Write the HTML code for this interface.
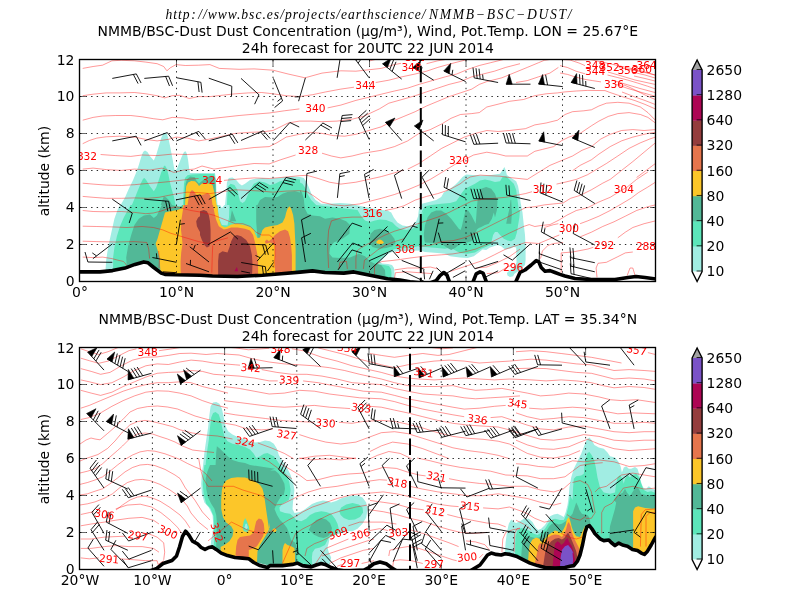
<!DOCTYPE html><html><head><meta charset="utf-8"><title>NMMB/BSC-Dust</title>
<style>html,body{margin:0;padding:0;background:#fff}svg{display:block}text{font-family:"DejaVu Sans","Liberation Sans",sans-serif}</style></head><body>
<svg width="800" height="600" viewBox="0 0 800 600">
<rect width="800" height="600" fill="#fff"/>
<text y="19" font-size="13.6" font-style="italic" style="font-family:'Liberation Serif','DejaVu Serif',serif"><tspan x="165.5" textLength="260" lengthAdjust="spacing">http<tspan dx="0.5">:</tspan><tspan dx="1.5">//www.bsc.es/projects/earthscience/</tspan></tspan><tspan x="429" textLength="142.5" lengthAdjust="spacing">NMMB−BSC−DUST/</tspan></text>
<clipPath id="clip1"><rect x="80" y="60" width="575.6" height="221.2"/></clipPath>
<g clip-path="url(#clip1)">
<polygon fill="#a1ede3" points="105.6,275.0 105.6,268.8 106.2,260.0 107.5,251.2 109.4,241.2 111.9,230.0 114.4,218.8 117.5,210.0 120.0,205.0 120.6,205.0 125.0,197.5 128.8,188.8 133.1,180.0 136.2,172.5 138.8,165.0 141.2,156.9 143.1,151.9 145.0,150.6 147.5,151.9 150.0,156.2 153.8,160.6 156.2,155.0 158.8,146.2 161.2,138.1 163.1,133.8 165.0,132.5 166.9,133.8 168.8,140.0 170.6,148.8 172.5,158.8 174.0,167.5 175.0,171.2 176.9,168.8 179.4,162.5 181.9,156.2 184.0,151.9 185.6,151.2 186.9,153.8 188.1,160.0 189.0,167.5 190.0,173.1 200.0,173.1 200.0,173.1 215.0,173.1 216.0,180.0 216.5,192.5 217.5,205.0 220.0,205.0 221.9,208.1 224.4,205.0 225.0,205.0 226.2,192.5 226.9,182.5 228.8,178.1 232.5,177.5 236.2,180.0 239.4,183.8 241.9,185.6 245.0,183.8 250.0,180.0 255.0,178.8 262.5,178.1 270.0,178.8 277.5,178.1 285.0,176.9 292.5,176.5 300.0,176.9 300.0,176.9 303.8,178.1 306.9,182.5 309.4,188.8 311.9,195.0 315.6,200.0 321.2,203.8 330.0,203.8 340.0,203.1 350.0,203.8 370.0,208.1 380.0,210.0 387.5,210.6 391.2,212.5 393.8,217.5 397.5,222.5 402.5,225.6 407.5,226.2 412.5,225.0 416.2,221.2 418.1,216.2 418.8,210.0 418.8,210.0 421.9,203.8 428.8,201.9 436.2,200.0 441.2,196.9 443.8,192.5 450.0,188.8 455.0,185.0 458.8,181.2 462.5,176.9 466.2,174.4 472.5,175.0 480.0,175.6 487.5,175.6 495.0,174.4 500.0,173.8 502.5,170.0 504.4,166.9 505.6,170.0 506.9,175.0 511.2,178.1 516.2,181.2 518.1,186.2 519.4,193.8 520.6,202.5 522.5,212.5 523.8,225.0 525.0,235.0 525.6,247.5 525.6,260.0 525.0,265.0 520.0,270.0 514.4,273.8 513.1,276.2 510.0,277.1 507.5,275.6 506.9,273.1 510.0,270.0 515.0,266.2 516.5,262.5 516.2,247.5 513.8,246.9 510.0,248.8 505.0,249.4 501.2,246.2 497.5,245.0 493.8,246.2 490.0,247.5 486.2,250.0 482.5,249.4 478.8,252.5 473.8,256.2 467.5,258.1 460.0,257.5 450.0,256.2 445.0,253.8 437.5,253.1 431.2,252.5 425.0,251.9 420.0,250.6 396.2,251.2 391.2,252.2 388.0,254.0 384.0,258.0 380.0,262.0 382.0,263.5 388.0,264.0 392.0,265.0 394.0,268.0 394.5,273.0 394.0,285.0"/>
<polygon fill="#5ce6ba" points="113.1,275.0 113.1,266.9 113.1,257.5 114.4,247.5 116.9,236.2 120.0,226.2 123.8,217.5 128.1,209.4 130.6,205.0 131.9,205.0 135.0,197.5 137.5,191.2 140.6,183.8 143.1,178.8 144.4,178.1 146.2,180.0 150.0,186.2 153.8,191.2 156.2,187.5 158.8,180.0 161.2,172.5 163.8,166.2 165.0,165.6 166.9,168.8 168.5,175.0 170.0,182.5 171.9,190.0 173.8,196.2 175.6,205.0 177.5,206.0 181.2,206.0 183.1,205.0 183.5,192.5 184.0,183.8 185.0,178.1 187.5,175.2 191.2,174.4 200.0,174.1 200.0,174.0 214.4,174.0 215.2,182.5 215.8,192.5 216.2,205.0 217.5,205.0 218.8,217.5 221.9,225.0 227.5,225.6 229.0,217.5 229.4,205.0 226.9,205.0 227.5,192.5 228.1,186.2 230.6,183.8 234.4,185.0 237.5,190.0 238.8,196.2 240.0,201.2 242.5,203.1 245.0,201.2 250.0,190.0 253.8,183.8 258.8,181.2 265.0,182.5 270.0,185.0 275.0,183.8 280.0,181.2 287.5,179.4 295.0,178.8 300.0,179.4 300.0,182.5 302.5,183.8 305.0,187.5 307.5,193.8 311.2,200.0 316.2,205.0 357.5,210.0 361.2,216.2 365.0,220.6 370.0,221.9 375.0,220.6 380.0,219.4 386.2,220.0 392.5,222.5 396.2,226.2 400.0,228.8 406.2,230.0 412.5,228.8 417.5,225.0 420.0,220.0 421.9,215.0 423.8,210.0 420.6,216.2 422.5,210.0 425.0,206.2 431.2,205.0 441.2,203.8 450.0,203.1 456.2,201.2 458.8,197.5 461.2,193.8 465.0,188.8 470.0,186.2 475.0,183.8 480.0,180.6 485.0,179.4 490.0,180.6 495.0,181.9 500.0,181.2 502.5,176.9 506.2,176.2 509.4,179.4 513.8,183.8 516.2,190.0 517.5,200.0 518.8,210.0 520.0,210.0 519.4,217.5 518.1,225.0 516.9,232.5 515.0,238.8 511.2,241.2 507.5,240.6 503.8,238.8 500.0,235.0 497.5,231.9 495.0,231.9 493.1,235.0 491.9,240.0 490.6,245.0 487.5,246.2 481.2,248.8 475.0,252.5 467.5,253.8 460.0,253.1 450.0,247.5 445.0,248.8 437.5,248.1 431.2,247.5 425.0,246.9 420.0,246.2 417.5,246.2 412.5,247.5 396.2,248.8 391.2,250.2 387.0,252.5 383.0,256.0 379.0,260.0 377.0,263.0 379.0,264.5 384.0,265.0 389.0,266.0 391.0,269.0 391.5,273.0 391.0,285.0"/>
<polygon fill="#52b897" points="126.9,275.0 126.9,267.5 126.2,257.5 128.1,246.2 131.2,235.0 134.4,225.0 138.8,218.8 143.8,215.6 150.0,214.4 153.8,218.1 156.9,215.6 160.0,208.8 161.9,205.0 160.6,205.0 162.5,200.0 163.8,196.2 166.2,197.5 170.0,201.2 171.9,205.0 180.0,207.5 182.5,205.0 184.4,205.0 184.8,192.5 185.6,183.8 186.9,179.4 190.0,176.5 195.0,177.2 196.0,180.0 199.0,183.5 202.0,181.0 205.0,178.5 210.0,176.0 214.0,176.0 215.5,179.0 216.0,205.0 216.2,230.0 257.5,238.8 256.2,221.9 256.2,205.0 257.5,205.0 260.0,200.0 265.0,196.9 272.5,197.5 277.5,196.9 282.5,193.8 287.5,191.9 295.0,191.2 300.0,192.5 300.0,190.0 301.9,192.5 303.8,198.8 304.4,205.0 305.0,208.8 307.5,213.8 312.5,215.6 320.0,216.2 325.0,218.8 332.5,217.5 340.0,218.8 346.2,221.2 350.0,225.0 349.4,233.8 342.5,238.8 333.8,242.5 330.0,247.5 329.4,253.8 332.5,257.5 340.0,258.1 350.0,257.5 358.8,253.8 365.0,256.2 370.0,261.2 375.0,263.8 381.2,265.0 385.0,270.0 385.6,280.0 300.0,280.0"/>
<polygon fill="#52b897" points="369.4,239.4 370.6,233.8 374.4,230.0 380.0,228.8 386.2,230.6 391.2,234.4 394.4,238.8 395.6,243.1 392.5,246.2 386.2,248.1 378.8,248.8 372.5,246.9 370.0,243.8"/>
<polygon fill="#52b897" points="424.4,240.6 423.8,233.8 425.0,225.0 427.5,217.5 431.2,212.5 436.2,210.6 441.2,210.6 446.2,213.8 451.2,218.8 455.0,223.8 458.8,228.8 460.6,230.0 461.9,226.2 463.8,217.5 465.6,210.0 468.1,210.6 471.2,215.0 474.4,221.2 475.6,223.8 476.2,217.5 476.9,207.5 476.9,207.5 478.1,195.0 481.2,188.8 486.2,186.9 491.2,188.8 495.0,193.8 497.5,201.2 496.9,210.0 495.0,217.5 493.8,212.5 491.9,218.8 488.8,223.8 485.0,225.0 481.2,226.9 478.8,228.1 476.9,229.4 475.6,233.8 473.8,238.8 471.2,241.2 467.5,242.5 462.5,243.1 458.8,245.0 455.0,248.1 451.2,250.0 447.5,248.1 441.2,243.8 432.5,243.1 425.0,242.5"/>
<polygon fill="#52b897" points="510.6,200.0 509.4,208.8 506.9,220.0 506.2,223.8 511.2,223.8 511.9,212.5 511.2,200.0"/>
<polygon fill="#52b897" points="230.0,221.2 231.9,210.0 236.2,221.2"/>
<polygon fill="#fcc629" points="160.6,275.0 160.0,265.0 159.4,257.5 157.5,250.0 155.6,243.8 157.5,238.8 160.0,230.0 162.5,221.2 165.0,212.5 170.0,211.2 177.5,210.0 182.5,208.1 183.1,205.0 185.0,205.0 185.6,192.5 186.2,186.2 188.1,182.5 191.2,181.0 195.0,181.2 197.5,183.8 199.0,186.0 202.0,183.5 206.0,183.5 210.0,183.5 212.5,185.0 214.0,191.0 215.5,199.0 217.0,207.0 217.5,205.0 218.1,212.5 219.4,220.0 221.2,225.6 225.0,227.5 228.1,226.2 231.2,224.4 237.5,223.8 243.8,225.0 250.0,226.9 253.8,230.0 255.6,235.0 257.5,238.1 260.0,237.5 261.2,233.8 262.5,230.0 265.0,227.5 270.0,226.2 277.5,225.0 282.5,222.5 285.0,217.5 286.2,212.5 287.5,208.8 289.4,206.2 291.2,208.8 293.1,215.0 294.4,223.8 295.0,236.2 295.6,248.8 295.6,280.0"/>
<polygon fill="#fcc629" points="376.2,241.9 378.1,240.0 380.0,239.4 382.2,240.6 384.0,242.5 382.5,243.8 379.4,244.0 376.9,243.5"/>
<polygon fill="#e6754c" points="181.2,280.0 180.6,270.0 180.6,261.2 181.2,252.5 182.5,243.8 181.9,237.5 181.0,230.0 181.2,221.2 182.5,212.5 183.8,205.0 187.5,205.0 188.8,197.5 190.0,192.5 191.9,190.0 193.8,191.2 196.2,194.4 200.0,195.2 200.0,195.0 203.8,194.4 207.5,193.1 210.0,195.0 211.9,200.0 212.5,205.0 213.1,205.0 214.4,212.5 216.2,220.0 218.8,226.2 223.8,229.4 227.5,228.8 231.2,227.5 237.5,227.5 245.0,228.8 250.0,230.6 253.1,235.0 255.0,242.5 256.2,248.8 257.5,255.0 258.1,262.5 258.1,280.0"/>
<polygon fill="#e6754c" points="275.0,280.0 275.0,245.0 270.0,242.5 265.6,243.8 265.0,241.2 266.9,239.4 268.8,241.2 271.9,238.8 275.0,235.0 280.0,231.2 285.0,229.4 288.1,231.2 290.0,237.5 291.2,246.2 291.9,255.0 291.9,280.0"/>
<polygon fill="#943d3d" points="200.0,211.2 203.8,210.0 206.9,211.2 208.8,215.0 210.0,221.2 210.6,230.0 210.6,240.0 209.4,246.2 206.9,247.5 204.4,245.0 201.9,240.0 200.0,235.0 200.0,231.9 198.8,230.0 196.9,226.2 196.2,221.2 198.1,217.5 200.0,216.2"/>
<polygon fill="#943d3d" points="218.1,280.0 218.1,261.2 218.8,253.8 222.5,251.2 227.5,252.5 229.4,247.5 231.2,241.2 233.8,236.2 236.9,235.0 241.2,236.2 246.2,240.0 250.0,246.2 251.9,255.0 252.5,263.8 251.9,280.0"/>
<polygon fill="#ad0554" points="234.4,271.2 236.9,266.9 238.1,271.2"/>
<g fill="none" stroke="#ff0000" stroke-opacity="0.58" stroke-width="0.7">
<polyline points="422.8,59.9 426.5,58.9"/>
<polyline points="370.0,60.8 377.5,58.9"/>
<polyline points="426.5,63.7 437.8,60.8 449.1,58.9"/>
<polyline points="375.7,82.5 388.8,80.2 402.0,76.8 415.2,74.0 426.5,71.2 437.8,67.4 451.0,63.7 464.2,60.3 471.8,58.0"/>
<polyline points="516.0,82.5 527.3,80.6 538.6,76.8 549.9,73.1 558.4,67.4"/>
<polyline points="572.5,170.7 580.1,165.4 591.4,159.8 598.9,154.1 610.2,146.6 621.5,140.9 632.8,137.1 647.9,133.4 655.4,132.4"/>
<polyline points="82.7,183.2 93.1,184.1 106.3,185.1 121.3,185.5 134.5,184.7 145.8,183.6 157.1,182.8 168.4,181.7 179.8,180.4 191.1,179.0 198.6,178.5"/>
<polyline points="82.7,226.2 96.8,226.5 111.9,226.9 127.0,227.5 142.1,226.5 153.4,227.5 162.8,229.9 170.3,233.1 179.8,236.0 189.2,238.8 198.6,241.6 208.0,243.5 217.4,240.7 228.0,237.8"/>
<polyline points="82.7,241.2 96.8,241.6 115.7,242.0 134.5,241.6 146.8,242.5 148.7,249.1 149.6,258.6"/>
<polyline points="82.7,257.1 93.1,257.6 102.5,257.1 111.9,258.6 117.6,260.1 123.2,261.4 126.0,264.2 126.6,267.0"/>
<polyline points="158.6,251.0 159.4,260.4 159.0,268.0"/>
<polyline points="212.7,245.4 212.2,258.6 211.8,272.7"/>
<polyline points="162.8,272.7 176.0,272.7"/>
<polyline points="328.6,268.0 327.6,245.4 328.6,230.3 331.4,220.9 340.8,218.0 352.1,217.1 363.4,217.1"/>
<polyline points="338.9,268.9 339.9,262.3 346.5,261.4 347.4,268.9"/>
<polyline points="394.5,269.9 407.7,268.0 419.0,268.0 430.3,267.0 437.8,268.9"/>
<polyline points="475.5,268.0 486.8,267.0 498.1,262.3 509.4,256.7 520.0,249.1"/>
<polyline points="486.8,273.6 498.1,272.7 505.7,268.0 513.2,264.2"/>
<polyline points="394.5,278.3 395.4,272.7 407.7,271.8 419.0,272.7 432.2,273.6"/>
<polyline points="580.1,223.7 587.6,220.9 598.9,216.2 610.2,210.5 621.5,203.9 630.9,198.3 638.5,192.6 647.9,187.0 655.4,182.2"/>
<polyline points="544.3,227.5 553.7,224.6 558.4,223.7"/>
<polyline points="580.1,236.9 591.4,232.2 602.7,226.5 614.0,221.8 625.3,216.2 636.6,210.5 647.9,206.7 655.4,204.9"/>
<polyline points="617.8,237.8 625.3,232.2 632.8,227.5 644.1,223.7 655.4,220.9"/>
<polyline points="597.0,277.4 596.1,268.0 598.0,263.3 606.4,262.3 617.8,256.7 625.3,252.9 632.8,252.0"/>
<polyline points="561.2,272.7 561.2,252.9 572.5,252.0 587.6,249.1 593.3,247.3"/>
<polyline points="540.5,258.6 542.4,251.0 548.0,245.4 553.7,243.5 563.1,242.5"/>
<polyline points="627.2,275.5 630.0,268.0 632.8,268.0 635.1,275.5"/>
<polyline points="560.0,65.6 567.5,67.5 576.0,71.2 585.0,73.8"/>
<polyline points="607.5,75.0 617.5,77.5 627.5,80.0 637.5,83.0 647.5,86.2 655.0,88.8"/>
<polyline points="560.0,73.0 567.5,74.4 575.0,76.9 585.0,79.4 592.5,80.6 601.0,81.9"/>
<polyline points="624.0,85.0 630.0,87.5 640.0,92.5 647.5,96.2 655.0,99.4"/>
<polyline points="619.0,67.5 632.0,70.0 645.0,72.5 655.0,75.0"/>
<polyline points="632.0,72.0 645.0,75.0 655.0,78.0"/>
<polyline points="634.0,76.0 645.0,78.5 655.0,81.0"/>
<polyline points="608.0,72.0 620.0,75.5 635.0,80.0 655.0,84.4"/>
<polyline points="612.0,80.0 625.0,84.0 640.0,88.5 655.0,92.5"/>
<polyline points="615.0,84.0 628.0,88.5 640.0,92.0 655.0,96.2"/>
<polyline points="622.0,92.0 635.0,97.0 645.0,100.5 655.0,104.4"/>
<polyline points="82.7,120.2 93.1,117.4 102.5,116.0 115.7,115.5 130.8,115.5 142.1,116.8 153.4,118.7 162.8,119.8 172.2,117.4 183.5,117.9 194.8,119.8 209.9,118.7 239.1,115.5 254.1,114.2 269.2,113.0 284.3,110.8 299.4,108.9"/>
<polyline points="82.7,169.1 93.1,168.1 106.3,169.6 121.3,170.4 134.5,169.1 150.0,170.0 162.0,168.1 173.9,172.4 183.9,170.0 194.1,169.1 202.0,166.0 214.0,169.1 239.1,165.4 254.1,163.5 269.2,163.9 280.5,159.8 295.6,155.0"/>
<polyline points="82.7,95.7 93.1,94.2 106.3,92.9 119.5,92.9 134.5,92.5 145.8,93.8 157.1,95.7 164.7,97.9 172.2,95.7 179.8,95.3 189.2,98.5 198.6,96.6 209.9,96.6 235.3,93.8 248.5,92.9 261.7,92.5 273.0,93.8 286.2,95.7 299.4,96.6 312.6,94.7 325.8,91.9 340.8,89.1 354.0,87.2"/>
<polyline points="556.5,184.1 565.0,182.2 576.3,179.4 587.6,174.7 606.4,163.5 617.8,156.0 629.1,148.4 640.4,142.8 649.8,139.0 655.4,137.1"/>
<polyline points="636.6,177.5 655.4,163.5"/>
<polyline points="374.5,276.0 374.5,267.0 376.0,264.0 382.0,261.5 392.0,260.5 400.0,259.5 410.0,258.0 428.4,255.7 441.6,254.8 452.9,253.9 464.2,252.0 475.5,249.1 486.8,244.4 498.1,238.8 509.4,233.1 523.5,226.5 529.2,224.6 534.8,226.5 540.5,225.6 549.9,224.6 559.3,219.9 566.9,215.2 576.3,210.5 587.6,207.7 598.9,202.0 610.2,197.3 617.8,192.6 627.2,187.0 636.6,179.4 647.9,171.9"/>
<polyline points="224.0,180.4 239.1,179.0 254.1,177.9 269.2,178.5 284.3,177.2 299.4,175.7 306.9,175.3 318.2,178.5 329.5,182.2 340.8,184.1 355.9,182.2 381.3,176.6 394.5,172.8 403.9,170.0"/>
<polyline points="327.6,107.9 340.8,105.1 355.9,100.4 381.3,94.2 394.5,91.0 407.7,88.1 419.0,84.4 432.2,80.6 445.4,76.8 456.7,74.0 468.0,69.3 479.3,65.5 490.6,62.7 501.9,59.9 509.4,58.0"/>
<polyline points="82.7,68.4 93.1,66.5 102.5,65.2 111.9,60.8 121.3,60.3 134.5,60.8 145.8,62.1 157.1,63.7 163.7,66.5 166.9,70.8 170.3,67.8 176.0,64.6 185.4,65.5 198.6,65.2 209.9,64.6 219.3,68.4 239.1,69.3 254.1,68.9 273.0,70.2 288.1,74.0 305.0,77.8 322.0,73.1 340.8,70.8 355.9,71.2 381.3,68.4 394.5,64.6 401.1,63.3"/>
<polyline points="82.7,210.5 93.1,211.5 106.3,211.8 121.3,211.5 134.5,212.4 145.8,213.7 153.4,213.0 160.9,211.1 168.4,208.6 176.0,206.7 183.5,208.6 191.1,210.5 202.4,212.4 213.7,215.2 235.3,223.7 242.8,223.7 250.4,226.5 256.0,232.2 261.7,235.0 269.2,235.0 273.0,237.8 274.9,245.4 274.9,256.7 273.9,268.0"/>
<polyline points="575.0,60.0 590.0,59.5 620.0,66.0 640.0,70.5 655.0,75.0"/>
<polyline points="407.7,169.2 419.0,163.5 430.3,156.0 441.6,148.4 452.9,142.8 464.2,137.1 475.5,133.4 486.8,130.5 498.1,131.5 509.4,130.5 525.4,128.7 534.8,124.9 546.1,123.0 557.5,120.2 565.0,114.5 572.5,111.7 583.8,110.8 591.4,109.8 598.9,106.0 606.4,103.2 617.8,102.3 629.1,103.2 640.4,107.0 647.9,112.6 655.4,120.2"/>
<polyline points="385.1,210.5 394.5,208.6 403.9,205.8 415.2,200.1 426.5,196.4 437.8,193.6 449.1,189.8 460.1,183.9 465.0,180.0 470.1,177.0 480.0,175.1 490.0,175.7 500.0,176.2 509.4,177.5 527.3,179.4 549.9,165.4 561.2,160.7 572.5,156.0 582.0,150.3 591.4,146.6 600.8,139.0 610.2,134.3 621.5,130.5 632.8,129.6 644.1,130.5 655.4,129.6"/>
<polyline points="322.0,153.2 331.4,156.0 340.8,157.9 352.1,156.0 363.4,153.2 381.3,150.3 394.5,146.6 407.7,140.9 419.0,133.4 430.3,129.6 441.6,124.0 451.0,118.3 460.4,114.5 471.8,113.6 479.3,112.6 486.8,107.0 498.1,104.2 509.4,101.3 523.5,99.5 534.8,95.7 546.1,93.8 557.5,92.9 565.0,91.9 576.3,91.0 587.6,90.4 605.0,90.6 610.0,92.5 617.5,95.0 625.0,97.5 635.0,100.6 645.0,104.4 655.0,108.8"/>
<polyline points="82.7,143.7 89.3,140.5 96.8,138.1 106.3,136.8 119.5,136.2 134.5,137.1 145.8,139.4 157.1,140.9 168.4,139.4 176.0,137.1 187.3,138.1 198.6,140.9 209.9,139.0 235.3,133.4 248.5,132.4 261.7,131.9 273.0,130.5 280.5,126.8 288.1,123.0 299.4,121.1 310.7,121.1 322.0,121.7 337.1,121.1 352.1,119.2 363.4,116.4 379.4,108.9 388.8,103.2 402.0,99.5 415.2,95.7 426.5,91.9 437.8,88.1 449.1,84.4 460.4,81.6 471.8,76.8 483.1,74.0 494.4,71.2 505.7,67.4 520.0,63.7"/>
<polyline points="355.9,268.9 355.9,258.6 356.8,251.0 361.6,247.3 377.5,238.8 385.1,235.0 394.5,231.2 403.9,228.4 415.2,224.6 426.5,220.9 437.8,217.1 449.1,212.4 460.4,206.7 471.8,201.1 483.1,199.2 494.4,198.3 505.7,197.3 525.4,193.6 532.0,191.7"/>
<polyline points="449.1,271.8 460.4,268.0 471.8,264.2 483.1,260.4 494.4,254.8 505.7,249.1 525.4,242.5 538.6,243.5 549.9,238.8 559.3,235.0"/>
<polyline points="363.4,268.9 364.4,260.4 377.5,250.1 385.1,245.4 394.5,241.6 403.9,238.8"/>
<polyline points="82.7,196.4 93.1,197.3 106.3,198.3 121.3,198.3 134.5,197.9 147.7,198.3 159.0,197.3 168.4,195.4 177.9,193.6 187.3,192.2 198.6,192.6 209.9,193.6 235.3,189.8 248.5,190.4 261.7,191.1 273.0,192.2 286.2,191.1 299.4,190.7 306.9,191.7 314.4,196.4 322.0,202.0 333.3,204.9 344.6,205.8 359.7,203.9 381.3,198.3 394.5,194.5 407.7,189.8 419.0,185.1 430.3,179.4 454.8,164.5 464.2,159.8 473.6,155.0 486.8,152.2 498.1,154.1 505.7,156.0 527.3,156.0 534.8,151.3 542.4,149.4 553.7,146.6 561.2,140.9 568.8,137.1 580.1,133.4 591.4,125.8 598.9,121.1 608.3,116.4 617.8,113.6 629.1,112.6 640.4,114.5 647.9,117.4 655.4,123.0"/>
<polyline points="419.0,246.3 430.3,245.4 441.6,241.6 452.9,240.7 464.2,237.8 475.5,233.1 486.8,227.5 498.1,221.8 509.4,216.2 525.4,207.7 534.8,206.7 544.3,204.9 553.7,203.9 563.1,203.0 570.6,198.3 580.1,195.4 591.4,189.8 602.7,183.2 610.2,179.4 632.8,161.6 644.1,152.2 655.4,142.8"/>
<polyline points="100.6,154.5 115.7,155.6 130.8,156.4 142.1,155.0 157.1,155.6 172.2,154.1 187.3,154.5 202.4,153.7 217.4,151.3 239.1,149.4 254.1,147.5 269.2,146.6 276.8,142.8 286.2,137.1 299.4,134.3 310.7,132.4 322.0,133.4 333.3,135.6 344.6,136.2 355.9,134.3 381.3,126.8 392.6,121.1 403.9,116.4 415.2,111.7 426.5,106.0 437.8,101.3 449.1,96.6 460.4,92.9 471.8,89.1 479.3,84.4 486.8,81.6 501.9,77.8 527.3,67.4 538.6,62.7 544.3,60.3 553.7,58.9 570.0,60.0 579.0,63.0 585.0,65.6"/>
</g>
<g stroke="#000" stroke-width="0.85" stroke-dasharray="1.39,4.17" fill="none">
<line x1="176.5" y1="60" x2="176.5" y2="281.2"/>
<line x1="273" y1="60" x2="273" y2="281.2"/>
<line x1="369.5" y1="60" x2="369.5" y2="281.2"/>
<line x1="466" y1="60" x2="466" y2="281.2"/>
<line x1="562.5" y1="60" x2="562.5" y2="281.2"/>
<line x1="80" y1="244.5" x2="655.6" y2="244.5"/>
<line x1="80" y1="207.5" x2="655.6" y2="207.5"/>
<line x1="80" y1="170.5" x2="655.6" y2="170.5"/>
<line x1="80" y1="133.5" x2="655.6" y2="133.5"/>
<line x1="80" y1="96.5" x2="655.6" y2="96.5"/>
</g>
<g stroke="#000" stroke-width="0.6">
<line x1="176.5" y1="281.2" x2="176.5" y2="275.7"/>
<line x1="176.5" y1="60" x2="176.5" y2="65.5"/>
<line x1="273" y1="281.2" x2="273" y2="275.7"/>
<line x1="273" y1="60" x2="273" y2="65.5"/>
<line x1="369.5" y1="281.2" x2="369.5" y2="275.7"/>
<line x1="369.5" y1="60" x2="369.5" y2="65.5"/>
<line x1="466" y1="281.2" x2="466" y2="275.7"/>
<line x1="466" y1="60" x2="466" y2="65.5"/>
<line x1="562.5" y1="281.2" x2="562.5" y2="275.7"/>
<line x1="562.5" y1="60" x2="562.5" y2="65.5"/>
<line x1="80" y1="244.5" x2="85.5" y2="244.5"/>
<line x1="655.6" y1="244.5" x2="650.1" y2="244.5"/>
<line x1="80" y1="207.5" x2="85.5" y2="207.5"/>
<line x1="655.6" y1="207.5" x2="650.1" y2="207.5"/>
<line x1="80" y1="170.5" x2="85.5" y2="170.5"/>
<line x1="655.6" y1="170.5" x2="650.1" y2="170.5"/>
<line x1="80" y1="133.5" x2="85.5" y2="133.5"/>
<line x1="655.6" y1="133.5" x2="650.1" y2="133.5"/>
<line x1="80" y1="96.5" x2="85.5" y2="96.5"/>
<line x1="655.6" y1="96.5" x2="650.1" y2="96.5"/>
</g>
<g stroke="#000" stroke-width="0.9" fill="none" stroke-linejoin="miter">
<polyline points="112.3,78.4 136.3,73.9"/>
<polyline points="136.3,73.9 141.1,83.0"/>
<polyline points="133.3,74.4 138.1,83.6"/>
<polyline points="144.3,78.4 168.6,76.2"/>
<polyline points="168.6,76.2 172.6,85.8"/>
<polyline points="165.6,76.4 169.5,86.0"/>
<polyline points="176.9,77.8 200.9,82.3"/>
<polyline points="200.9,82.3 202.1,92.6"/>
<polyline points="197.9,81.7 199.1,92.0"/>
<polyline points="112.3,140.9 136.2,136.2"/>
<polyline points="136.2,136.2 141.1,145.4"/>
<polyline points="144.3,140.9 167.3,132.6"/>
<polyline points="167.3,132.6 173.5,140.8"/>
<polyline points="176.4,140.9 198.8,131.4"/>
<polyline points="198.8,131.4 205.5,139.3"/>
<polyline points="196.0,132.6 199.4,136.5"/>
<polyline points="208.8,78.2 231.8,86.2"/>
<polyline points="231.8,86.2 231.5,96.5"/>
<polyline points="208.8,140.8 232.3,134.2"/>
<polyline points="232.3,134.2 237.8,142.9"/>
<polyline points="229.3,135.0 234.9,143.8"/>
<polyline points="241.0,78.4 259.0,94.8"/>
<polyline points="259.0,94.8 254.6,104.2"/>
<polyline points="273.4,78.4 282.6,100.9"/>
<polyline points="282.6,100.9 274.6,107.5"/>
<polyline points="281.5,98.1 277.5,101.4"/>
<polyline points="305.4,77.8 298.6,101.2"/>
<polyline points="299.9,96.8 294.7,96.9"/>
<polyline points="337.1,77.8 340.9,53.7"/>
<polyline points="340.9,53.7 351.2,52.2"/>
<polyline points="369.1,77.8 354.5,58.3"/>
<polyline points="354.5,58.3 360.5,49.9"/>
<polyline points="356.3,60.7 362.4,52.3"/>
<polyline points="358.1,63.1 364.2,54.8"/>
<polyline points="241.0,140.5 263.3,130.7"/>
<polyline points="263.3,130.7 270.1,138.5"/>
<polyline points="260.5,131.9 267.3,139.7"/>
<polyline points="273.4,140.5 289.9,122.5"/>
<polyline points="289.9,122.5 299.2,127.0"/>
<polyline points="305.4,140.0 322.9,123.0"/>
<polyline points="322.9,123.0 332.0,128.0"/>
<polyline points="320.7,125.1 329.8,130.1"/>
<polyline points="337.1,139.4 342.2,115.5"/>
<polyline points="342.2,115.5 352.5,114.6"/>
<polyline points="341.5,118.5 351.8,117.6"/>
<polyline points="340.9,121.5 351.2,120.6"/>
<polyline points="369.1,139.4 358.7,117.3"/>
<polyline points="358.7,117.3 366.4,110.3"/>
<polyline points="360.0,120.1 367.7,113.1"/>
<polyline points="361.3,122.8 369.0,115.9"/>
<polyline points="362.6,125.6 370.3,118.6"/>
<polyline points="401.7,79.1 382.6,63.8"/>
<polyline points="389.8,69.5 393.6,59.9"/>
<polyline points="392.1,71.5 396.0,61.8"/>
<polyline points="433.7,80.2 413.0,67.3"/>
<polyline points="420.7,72.2 422.1,67.2"/>
<polyline points="465.7,81.6 443.8,70.9"/>
<polyline points="452.0,74.9 452.8,69.8"/>
<polyline points="498.1,82.5 474.2,77.9"/>
<polyline points="474.2,77.9 473.0,67.6"/>
<polyline points="477.2,78.5 476.0,68.2"/>
<polyline points="480.2,79.0 479.0,68.7"/>
<polyline points="483.2,79.6 482.6,74.5"/>
<polyline points="401.7,140.5 385.5,122.2"/>
<polyline points="433.7,140.9 414.5,125.9"/>
<polyline points="465.7,141.9 442.4,134.6"/>
<polyline points="442.4,134.6 442.5,124.2"/>
<polyline points="445.3,135.5 445.4,125.1"/>
<polyline points="448.3,136.4 448.3,126.0"/>
<polyline points="498.1,143.2 473.8,144.3"/>
<polyline points="473.8,144.3 470.3,134.5"/>
<polyline points="476.8,144.1 473.3,134.4"/>
<polyline points="479.9,144.0 476.4,134.2"/>
<polyline points="530.5,84.2 506.1,84.2"/>
<polyline points="530.5,143.8 506.1,143.0"/>
<polyline points="506.1,143.0 503.4,133.0"/>
<polyline points="509.2,143.1 506.4,133.1"/>
<polyline points="512.2,143.2 509.5,133.2"/>
<polyline points="515.3,143.3 512.5,133.3"/>
<polyline points="562.7,86.6 538.5,84.0"/>
<polyline points="547.6,85.0 545.6,74.8"/>
<polyline points="594.8,88.5 571.1,82.4"/>
<polyline points="580.0,84.7 579.5,74.3"/>
<polyline points="583.0,85.5 582.5,75.1"/>
<polyline points="585.9,86.2 585.7,81.0"/>
<polyline points="562.7,145.6 538.8,140.9"/>
<polyline points="594.8,147.5 572.3,138.0"/>
<polyline points="112.3,199.2 132.3,213.1"/>
<polyline points="132.3,213.1 129.2,223.0"/>
<polyline points="144.3,199.2 168.6,201.3"/>
<polyline points="168.6,201.3 170.8,211.4"/>
<polyline points="165.6,201.0 167.8,211.1"/>
<polyline points="176.4,199.8 200.3,194.9"/>
<polyline points="200.3,194.9 205.2,204.0"/>
<polyline points="197.3,195.5 202.2,204.6"/>
<polyline points="194.3,196.1 199.3,205.2"/>
<polyline points="112.3,243.9 92.9,258.7"/>
<polyline points="96.5,255.9 92.3,252.9"/>
<polyline points="176.4,243.9 180.4,219.8"/>
<polyline points="179.7,224.3 184.8,223.6"/>
<polyline points="112.3,262.3 87.9,262.0"/>
<polyline points="87.9,262.0 85.0,252.0"/>
<polyline points="176.4,262.3 152.4,257.5"/>
<polyline points="156.9,258.4 156.4,253.3"/>
<polyline points="209.0,262.0 189.8,246.8"/>
<polyline points="193.4,249.7 195.3,244.8"/>
<polyline points="176.4,272.7 162.8,271.8"/>
<polyline points="209.0,271.8 186.0,263.5"/>
<polyline points="190.3,265.0 190.5,259.9"/>
<polyline points="208.8,199.5 230.0,187.5"/>
<polyline points="230.0,187.5 237.5,194.6"/>
<polyline points="227.3,189.0 234.9,196.1"/>
<polyline points="241.0,198.6 259.4,182.6"/>
<polyline points="259.4,182.6 268.2,188.1"/>
<polyline points="257.1,184.6 265.9,190.1"/>
<polyline points="254.8,186.6 263.6,192.1"/>
<polyline points="273.4,198.3 286.0,177.4"/>
<polyline points="286.0,177.4 296.1,179.9"/>
<polyline points="284.4,180.0 294.5,182.5"/>
<polyline points="282.9,182.6 292.9,185.2"/>
<polyline points="305.4,197.9 306.9,173.5"/>
<polyline points="306.9,173.5 317.0,171.1"/>
<polyline points="337.4,197.9 339.9,173.6"/>
<polyline points="339.9,173.6 350.1,171.6"/>
<polyline points="339.6,176.7 344.7,175.6"/>
<polyline points="369.1,198.3 364.5,174.3"/>
<polyline points="364.5,174.3 373.6,169.4"/>
<polyline points="365.1,177.3 369.6,174.9"/>
<polyline points="305.4,243.9 301.5,219.8"/>
<polyline points="301.5,219.8 310.8,215.2"/>
<polyline points="337.4,242.5 352.2,223.1"/>
<polyline points="352.2,223.1 361.9,226.6"/>
<polyline points="305.4,262.0 301.6,237.8"/>
<polyline points="301.6,237.8 310.9,233.3"/>
<polyline points="337.4,262.0 352.7,243.0"/>
<polyline points="352.7,243.0 362.4,246.8"/>
<polyline points="338.0,269.9 352.0,249.9"/>
<polyline points="352.0,249.9 361.9,253.1"/>
<polyline points="209.1,244.0 230.4,232.0"/>
<polyline points="230.4,232.0 237.9,239.2"/>
<polyline points="241.2,244.0 265.6,244.8"/>
<polyline points="265.6,244.8 268.4,254.8"/>
<polyline points="262.6,244.7 265.3,254.7"/>
<polyline points="273.5,243.0 257.1,261.1"/>
<polyline points="260.2,257.7 255.5,255.5"/>
<polyline points="241.2,262.5 265.3,266.6"/>
<polyline points="265.3,266.6 266.7,276.8"/>
<polyline points="262.3,266.0 263.7,276.3"/>
<polyline points="273.5,262.5 267.5,271.0"/>
<polyline points="241.2,271.2 250.0,273.0"/>
<polyline points="401.7,198.6 394.4,175.3"/>
<polyline points="394.4,175.3 402.9,169.5"/>
<polyline points="433.7,198.6 422.1,177.2"/>
<polyline points="422.1,177.2 429.4,169.8"/>
<polyline points="465.7,198.3 444.0,187.2"/>
<polyline points="444.0,187.2 445.8,177.0"/>
<polyline points="446.7,188.6 448.5,178.4"/>
<polyline points="498.1,199.2 473.7,198.7"/>
<polyline points="473.7,198.7 470.9,188.7"/>
<polyline points="476.8,198.7 474.0,188.8"/>
<polyline points="479.8,198.8 477.0,188.9"/>
<polyline points="482.9,198.9 480.0,188.9"/>
<polyline points="370.0,243.5 387.5,226.5"/>
<polyline points="384.2,229.7 388.8,232.2"/>
<polyline points="401.7,242.5 415.2,222.3"/>
<polyline points="412.7,226.1 417.6,227.6"/>
<polyline points="433.7,242.5 439.2,218.8"/>
<polyline points="438.1,223.2 443.3,222.9"/>
<polyline points="465.7,242.5 441.3,242.5"/>
<polyline points="441.3,242.5 438.3,232.6"/>
<polyline points="498.1,243.1 473.7,242.6"/>
<polyline points="473.7,242.6 470.9,232.6"/>
<polyline points="476.8,242.6 474.0,232.7"/>
<polyline points="479.8,242.7 477.0,232.7"/>
<polyline points="370.0,260.4 392.3,250.4"/>
<polyline points="392.3,250.4 399.1,258.2"/>
<polyline points="401.7,260.4 424.4,269.4"/>
<polyline points="465.2,262.3 444.1,274.7"/>
<polyline points="444.1,274.7 436.5,267.7"/>
<polyline points="498.1,261.4 474.9,268.8"/>
<polyline points="474.9,268.8 469.0,260.3"/>
<polyline points="370.0,269.9 387.8,253.2"/>
<polyline points="402.0,270.8 424.1,281.3"/>
<polyline points="465.2,270.8 452.9,277.4"/>
<polyline points="498.1,270.8 476.3,281.7"/>
<polyline points="423.7,269.9 424.6,279.3"/>
<polyline points="433.1,270.8 429.4,279.3"/>
<polyline points="530.5,200.5 506.7,195.1"/>
<polyline points="506.7,195.1 505.9,184.8"/>
<polyline points="509.7,195.8 508.9,185.4"/>
<polyline points="530.5,243.8 512.4,260.1"/>
<polyline points="512.4,260.1 503.5,254.8"/>
<polyline points="562.7,202.0 540.1,192.8"/>
<polyline points="540.1,192.8 541.0,182.5"/>
<polyline points="543.0,194.0 543.9,183.7"/>
<polyline points="545.8,195.1 546.7,184.8"/>
<polyline points="594.8,203.5 574.2,190.4"/>
<polyline points="574.2,190.4 576.9,180.5"/>
<polyline points="576.8,192.1 579.5,182.1"/>
<polyline points="579.3,193.7 582.1,183.7"/>
<polyline points="581.9,195.4 584.6,185.4"/>
<polyline points="562.7,243.5 541.3,231.9"/>
<polyline points="541.3,231.9 543.3,221.7"/>
<polyline points="544.0,233.3 545.0,228.2"/>
<polyline points="594.8,245.0 573.2,233.5"/>
<polyline points="573.2,233.5 575.2,223.3"/>
<polyline points="562.2,262.0 539.2,253.7"/>
<polyline points="539.2,253.7 539.7,243.4"/>
<polyline points="594.8,262.7 570.9,257.7"/>
<polyline points="570.9,257.7 569.9,247.4"/>
<polyline points="573.9,258.3 572.9,248.0"/>
<polyline points="562.2,269.9 539.1,261.9"/>
<polyline points="539.1,261.9 539.5,251.5"/>
<polyline points="594.8,271.8 571.0,266.2"/>
<polyline points="571.0,266.2 570.3,255.8"/>
<polyline points="574.0,266.9 573.3,256.5"/>
<polyline points="594.8,279.3 571.0,273.7"/>
<polyline points="571.0,273.7 570.3,263.4"/>
<polyline points="574.0,274.4 573.3,264.1"/>
</g>
<g stroke="#000" stroke-width="0.6" fill="#000">
<polygon points="382.6,63.8 391.2,58.0 387.4,67.6"/>
<polygon points="413.0,67.3 420.8,60.5 418.2,70.6"/>
<polygon points="443.8,70.9 450.8,63.3 449.3,73.6"/>
<polygon points="385.5,122.2 395.0,118.0 389.6,126.8"/>
<polygon points="414.5,125.9 423.0,120.0 419.3,129.6"/>
<polygon points="506.1,84.2 509.2,74.3 512.2,84.2"/>
<polygon points="538.5,84.0 542.6,74.5 544.5,84.7"/>
<polygon points="571.1,82.4 576.6,73.6 577.1,83.9"/>
<polygon points="538.8,140.9 543.7,131.8 544.8,142.1"/>
<polygon points="572.3,138.0 579.0,130.1 577.9,140.4"/>
</g>
<polygon fill="#ffffff" points="80.0,271.9 100.0,271.9 112.5,270.6 125.0,268.1 135.0,264.4 143.8,261.9 148.1,262.8 153.8,267.5 161.2,273.1 165.0,274.4 175.0,274.8 187.5,275.0 200.0,275.2 212.5,276.0 237.5,276.5 262.5,275.2 281.2,273.8 300.0,272.1 312.5,270.9 325.0,272.5 343.8,273.1 353.8,271.9 368.8,275.0 387.5,278.8 400.0,280.0 410.0,281.8 420.0,282.8 430.0,283.0 436.2,280.6 440.0,275.6 443.8,272.5 446.9,275.0 450.2,283.8 462.5,284.5 472.2,284.0 476.2,273.8 480.0,271.9 483.1,273.1 487.2,284.0 497.5,284.6 514.8,284.0 520.0,272.5 525.0,270.0 531.2,265.0 536.2,260.6 538.8,261.9 541.2,267.5 545.0,271.2 550.0,270.6 555.0,272.5 560.0,274.4 565.0,276.0 575.0,278.5 590.0,279.5 615.0,279.5 628.0,277.5 636.0,276.5 645.0,277.5 656.0,279.0 656,286.2 80,286.2"/>
<g font-size="10.6" fill="#ff0000" text-anchor="middle">
<text x="87" y="159.9">332</text>
<text x="212.2" y="184.3">324</text>
<text x="315.4" y="112.4">340</text>
<text x="365.3" y="89.2">344</text>
<text x="308.2" y="153.9">328</text>
<text x="411.5" y="70.9">348</text>
<text x="459" y="163.9">320</text>
<text x="372.5" y="217.2">316</text>
<text x="404.9" y="252.7">308</text>
<text x="513.2" y="270.9">296</text>
<text x="542.8" y="192.7">312</text>
<text x="623.8" y="192.7">304</text>
<text x="568.8" y="232.3">300</text>
<text x="604.2" y="249.3">292</text>
<text x="646" y="250.2">288</text>
<text x="595.1" y="68.5">348</text>
<text x="595.1" y="74.7">344</text>
<text x="609.7" y="70.9">352</text>
<text x="627.5" y="74.1">356</text>
<text x="641.9" y="73.2">360</text>
<text x="646.6" y="69.1">364</text>
<text x="614" y="87.9">336</text>
<text x="415" y="60.9">352</text>
</g>
<polyline fill="none" stroke="#000" stroke-width="3.6" stroke-linejoin="round" points="80.0,271.9 100.0,271.9 112.5,270.6 125.0,268.1 135.0,264.4 143.8,261.9 148.1,262.8 153.8,267.5 161.2,273.1 165.0,274.4 175.0,274.8 187.5,275.0 200.0,275.2 212.5,276.0 237.5,276.5 262.5,275.2 281.2,273.8 300.0,272.1 312.5,270.9 325.0,272.5 343.8,273.1 353.8,271.9 368.8,275.0 387.5,278.8 400.0,280.0 410.0,281.8 420.0,282.8 430.0,283.0 436.2,280.6 440.0,275.6 443.8,272.5 446.9,275.0 450.2,283.8 462.5,284.5 472.2,284.0 476.2,273.8 480.0,271.9 483.1,273.1 487.2,284.0 497.5,284.6 514.8,284.0 520.0,272.5 525.0,270.0 531.2,265.0 536.2,260.6 538.8,261.9 541.2,267.5 545.0,271.2 550.0,270.6 555.0,272.5 560.0,274.4 565.0,276.0 575.0,278.5 590.0,279.5 615.0,279.5 628.0,277.5 636.0,276.5 645.0,277.5 656.0,279.0"/>
<line x1="420.8" y1="60" x2="420.8" y2="281.2" stroke="#000" stroke-width="2" stroke-dasharray="16.6,4.6" stroke-dashoffset="15.5"/>
</g>
<rect x="79.5" y="59.5" width="576" height="222" fill="none" stroke="#000" stroke-width="1.35"/>
<g font-size="13.95" fill="#000">
<text x="80" y="296.5" text-anchor="middle">0°</text>
<text x="176.5" y="296.5" text-anchor="middle">10°N</text>
<text x="273" y="296.5" text-anchor="middle">20°N</text>
<text x="369.5" y="296.5" text-anchor="middle">30°N</text>
<text x="466" y="296.5" text-anchor="middle">40°N</text>
<text x="562.5" y="296.5" text-anchor="middle">50°N</text>
<text x="74.5" y="286.1" text-anchor="end">0</text>
<text x="74.5" y="249.4" text-anchor="end">2</text>
<text x="74.5" y="212.4" text-anchor="end">4</text>
<text x="74.5" y="175.4" text-anchor="end">6</text>
<text x="74.5" y="138.4" text-anchor="end">8</text>
<text x="74.5" y="101.4" text-anchor="end">10</text>
<text x="74.5" y="64.9" text-anchor="end">12</text>
<text transform="translate(49.2 171.1) rotate(-90)" text-anchor="middle">altitude (km)</text>
<text x="367.8" y="36.2" text-anchor="middle">NMMB/BSC-Dust Dust Concentration (µg/m³), Wind, Pot.Temp. LON = 25.67°E</text>
<text x="367.8" y="52.6" text-anchor="middle">24h forecast for 20UTC 22 JUN 2014</text>
</g>
<rect x="692.1" y="246.31" width="10" height="25.49" fill="#a1ede3"/>
<rect x="692.1" y="221.12" width="10" height="25.49" fill="#5ce6ba"/>
<rect x="692.1" y="195.94" width="10" height="25.49" fill="#52b897"/>
<rect x="692.1" y="170.75" width="10" height="25.49" fill="#fcc629"/>
<rect x="692.1" y="145.56" width="10" height="25.49" fill="#e6754c"/>
<rect x="692.1" y="120.38" width="10" height="25.49" fill="#943d3d"/>
<rect x="692.1" y="95.19" width="10" height="25.49" fill="#ad0554"/>
<rect x="692.1" y="70.00" width="10" height="25.49" fill="#7a52c7"/>
<polygon points="692.1,70 697.1,60 702.1,70" fill="#a1a1a1"/>
<polygon points="692.1,271.5 697.1,281.5 702.1,271.5" fill="#fff"/>
<polygon points="692.1,70 697.1,60 702.1,70 702.1,271.5 697.1,281.5 692.1,271.5" fill="none" stroke="#000" stroke-width="1.35"/>
<g font-size="13.95" fill="#000">
<line x1="696.6" y1="271.00" x2="702.1" y2="271.00" stroke="#000" stroke-width="0.8"/>
<text x="706.6" y="276.30">10</text>
<line x1="696.6" y1="245.81" x2="702.1" y2="245.81" stroke="#000" stroke-width="0.8"/>
<text x="706.6" y="251.11">20</text>
<line x1="696.6" y1="220.62" x2="702.1" y2="220.62" stroke="#000" stroke-width="0.8"/>
<text x="706.6" y="225.93">40</text>
<line x1="696.6" y1="195.44" x2="702.1" y2="195.44" stroke="#000" stroke-width="0.8"/>
<text x="706.6" y="200.74">80</text>
<line x1="696.6" y1="170.25" x2="702.1" y2="170.25" stroke="#000" stroke-width="0.8"/>
<text x="706.6" y="175.55">160</text>
<line x1="696.6" y1="145.06" x2="702.1" y2="145.06" stroke="#000" stroke-width="0.8"/>
<text x="706.6" y="150.36">320</text>
<line x1="696.6" y1="119.88" x2="702.1" y2="119.88" stroke="#000" stroke-width="0.8"/>
<text x="706.6" y="125.17">640</text>
<line x1="696.6" y1="94.69" x2="702.1" y2="94.69" stroke="#000" stroke-width="0.8"/>
<text x="706.6" y="99.99">1280</text>
<line x1="696.6" y1="69.50" x2="702.1" y2="69.50" stroke="#000" stroke-width="0.8"/>
<text x="706.6" y="74.80">2650</text>
</g>
<clipPath id="clip2"><rect x="80" y="348" width="575.6" height="221.2"/></clipPath>
<g clip-path="url(#clip2)">
<polygon fill="#a1ede3" points="210.6,551.2 210.6,547.5 211.2,540.0 212.8,532.5 213.1,522.5 212.5,515.0 208.8,507.5 204.4,502.5 201.9,493.8 201.2,483.8 201.9,472.5 203.1,465.0 203.1,465.0 204.4,452.5 206.2,440.0 208.1,427.5 209.4,415.0 210.6,406.2 213.1,402.5 216.2,401.9 219.4,403.8 221.9,408.8 223.8,417.5 225.6,426.2 228.1,431.2 232.5,434.4 238.8,437.5 255.0,442.5 260.0,441.9 265.0,440.6 270.0,441.2 273.8,443.8 276.9,448.8 278.8,455.0 282.5,461.2 287.5,468.8 290.6,475.0 293.1,482.5 294.4,490.0 293.8,495.0 294.0,495.0 293.0,502.0 292.5,509.0 294.5,513.0 300.0,512.0 304.0,510.0 308.0,507.0 312.0,504.0 317.0,502.0 323.0,500.5 327.0,501.0 331.0,502.5 336.0,501.0 342.0,498.0 350.0,496.0 357.5,495.6 362.5,497.5 366.2,502.5 367.5,510.0 366.2,517.5 362.5,523.8 357.5,528.8 352.5,531.2 347.5,531.2 330.0,536.2 328.8,542.5 327.5,547.5 328.8,552.5 331.2,557.5 330.0,562.5 328.8,572.5"/>
<polygon fill="#a1ede3" points="505.0,572.5 505.0,552.5 505.6,542.5 506.9,532.5 508.8,523.8 511.2,519.4 513.8,521.9 516.2,523.1 520.0,521.2 523.8,518.8 528.8,518.8 532.5,521.9 535.6,527.5 538.1,530.0 541.2,528.8 545.0,525.0 548.1,520.0 550.0,516.2 553.8,514.4 557.5,513.8 561.2,515.6 563.8,516.9 565.6,512.5 567.5,505.0 568.8,495.0 569.4,487.5 571.2,477.5 573.8,468.8 577.5,461.2 581.2,453.8 585.0,443.8 586.9,439.4 589.4,437.5 591.9,440.6 594.4,445.0 598.8,447.5 603.8,448.8 607.5,452.5 610.0,456.2 615.0,457.5 618.1,461.2 620.6,466.2 621.9,472.5 623.8,467.5 626.2,466.2 628.8,468.8 631.2,468.8 635.0,466.9 637.5,468.8 639.4,475.0 641.2,482.5 643.1,487.5 646.2,488.8 648.8,486.2 651.2,488.1 657.5,491.2 657.5,575.0 505.0,575.0"/>
<polygon fill="#5ce6ba" points="213.8,552.5 213.8,547.5 214.0,540.0 213.8,540.0 214.0,525.0 213.5,516.2 210.6,508.8 206.2,503.8 203.8,495.0 202.8,485.0 203.1,475.0 204.4,465.0 205.6,465.0 206.9,452.5 208.8,440.0 210.0,427.5 211.2,417.5 213.1,413.1 215.6,411.9 218.8,414.4 220.6,420.0 222.5,428.8 224.4,436.2 227.5,441.2 232.5,443.8 238.8,445.0 245.0,446.9 250.0,449.4 253.8,453.8 256.2,458.1 260.0,456.2 263.8,453.8 267.5,453.1 271.2,455.0 273.8,456.2 277.5,461.2 282.5,468.8 286.9,475.0 289.4,482.5 290.6,490.0 290.0,495.0 290.0,495.0 288.8,500.0 282.5,503.8 279.4,507.5 280.0,511.2 285.0,513.1 290.0,513.8 293.1,516.2 296.2,520.0 301.2,521.2 306.2,518.8 310.0,515.0 315.0,512.5 321.2,511.2 326.2,511.9 331.2,513.8 335.0,518.8 337.5,523.8 338.8,528.8 337.5,533.8 328.8,537.5 325.0,545.0 320.0,547.5 315.0,548.8 312.5,552.5 311.9,557.5 312.5,572.5"/>
<polygon fill="#5ce6ba" points="339.4,511.2 341.2,507.5 346.2,504.4 352.5,503.1 358.8,504.4 362.5,507.5 363.1,512.5 360.0,516.9 355.0,519.4 348.8,520.0 343.8,518.1 340.6,515.0"/>
<polygon fill="#5ce6ba" points="515.0,572.5 515.0,553.8 515.2,545.0 515.6,536.2 517.5,530.0 521.2,528.1 525.0,528.8 530.0,531.2 533.8,533.8 537.5,535.0 541.2,532.5 545.0,528.8 548.1,523.8 551.2,520.0 555.0,518.8 560.0,520.0 563.8,520.0 566.2,515.0 568.1,507.5 569.4,500.0 570.0,495.0 572.5,500.0 573.1,487.5 573.8,478.8 576.2,476.2 581.2,475.6 583.8,473.8 584.4,466.2 585.6,458.8 587.5,453.1 589.4,451.9 591.2,454.4 593.8,458.8 595.6,466.2 597.5,477.5 600.0,487.5 603.8,492.5 610.0,493.8 615.0,492.5 616.2,483.8 617.5,477.5 620.0,475.0 622.5,478.8 623.8,483.8 625.0,478.8 627.5,475.0 630.0,477.5 632.5,475.0 636.2,473.8 639.4,477.5 641.2,483.8 643.8,490.0 647.5,491.9 651.2,491.2 657.5,493.8 657.5,575.0 515.0,575.0"/>
<polygon fill="#52b897" points="216.2,552.5 216.2,540.0 216.9,522.5 216.2,515.0 214.4,508.8 211.2,503.8 208.1,497.5 206.2,488.8 205.6,478.8 207.5,471.2 210.0,465.0 215.6,465.0 216.2,452.5 216.9,446.2 220.0,448.8 223.8,452.5 227.5,456.2 232.5,460.0 238.8,461.9 245.0,463.1 250.0,465.0 275.0,468.8 270.0,470.6 275.0,470.6 278.8,473.8 281.9,478.8 284.4,483.8 285.0,488.8 283.8,495.0 281.9,495.0 277.0,503.0 274.5,509.0 277.0,515.0 280.0,520.0 284.0,524.0 287.0,528.0 289.0,533.0 291.0,540.0 295.0,542.5 296.9,547.5 296.9,572.5"/>
<polygon fill="#52b897" points="308.8,530.0 311.2,525.0 316.2,520.0 321.2,518.1 326.2,519.4 330.0,523.1 331.9,528.1 331.2,532.5 328.1,536.2 323.8,538.1 318.8,536.9 313.8,534.4"/>
<polygon fill="#52b897" points="521.2,572.5 521.2,556.2 521.9,547.5 522.5,541.2 524.4,538.1 527.5,536.2 531.2,536.9 535.0,538.1 538.8,537.5 542.5,535.0 546.2,531.2 549.4,526.2 551.9,523.8 555.0,523.1 558.8,524.4 561.9,523.8 567.5,520.0 572.5,513.8 575.0,506.2 576.2,502.5 578.1,506.2 579.4,510.0 581.9,513.8 585.0,514.4 588.1,515.6 590.0,520.0 590.6,527.5 590.6,572.5"/>
<polygon fill="#52b897" points="609.4,572.5 609.4,535.0 610.0,526.2 612.5,517.5 615.0,508.8 616.2,502.5 613.8,500.0 617.5,495.0 622.5,493.1 625.0,488.8 626.9,492.5 630.0,496.2 633.8,490.0 636.2,486.2 638.8,488.8 641.2,493.8 647.5,495.6 657.5,495.6 657.5,575.0"/>
<polygon fill="#fcc629" points="221.9,490.0 223.1,485.0 226.2,480.6 231.2,478.1 237.5,477.2 245.0,477.5 251.2,479.4 256.2,481.9 260.0,485.0 262.5,488.8 263.8,493.8 265.0,501.2 266.2,510.0 267.5,518.8 268.8,527.5 269.4,535.0 269.0,522.5 269.8,527.5 267.5,532.5 263.8,538.8 260.0,545.0 257.5,551.2 256.9,565.0 221.2,565.0 220.6,546.9 224.4,545.0 229.4,541.2 232.5,536.2 233.5,530.6 231.2,526.2 226.2,522.5 223.1,517.5 222.5,515.0 221.2,508.8 221.2,500.0"/>
<polygon fill="#fcc629" points="282.5,572.5 282.5,550.0 283.8,545.0 285.0,543.1 287.5,545.0 291.2,546.2 294.4,548.1 295.0,555.0 295.0,572.5"/>
<polygon fill="#fcc629" points="274.4,528.2 275.8,528.9 276.4,530.2 275.8,531.6 274.4,532.2 273.0,531.6 272.4,530.2 273.0,528.9"/>
<polygon fill="#fcc629" points="528.1,572.5 528.1,560.0 528.8,551.2 530.0,543.8 532.5,539.4 536.2,537.5 539.4,538.8 541.2,541.9 545.0,538.8 548.1,535.0 551.9,532.5 555.0,530.6 557.5,531.2 561.2,533.1 563.8,528.8 565.6,525.0 566.9,519.4 568.8,516.9 570.0,520.0 571.9,527.5 573.8,532.5 576.2,536.2 580.0,536.9 583.1,530.0 585.0,526.2 585.0,572.5"/>
<polygon fill="#fcc629" points="633.1,572.5 633.1,511.2 635.0,507.5 638.1,506.2 645.0,508.1 652.5,508.8 658.8,507.5 658.8,572.5"/>
<polygon fill="#e6754c" points="235.6,565.0 235.6,553.8 236.2,546.2 237.5,540.0 240.0,536.9 245.0,536.2 250.0,535.6 253.8,532.5 255.0,526.2 256.2,521.2 258.8,518.5 261.9,519.4 263.8,523.8 264.4,530.0 263.1,536.2 260.0,541.2 256.9,546.2 252.5,548.8 248.8,550.0 248.8,565.0"/>
<polygon fill="#e6754c" points="535.0,572.5 535.0,562.5 536.9,553.8 538.1,546.2 540.0,543.1 542.5,544.4 545.0,542.5 548.1,537.5 551.2,535.6 555.0,534.4 558.8,535.0 561.9,536.9 564.4,533.8 566.2,528.8 567.5,523.8 568.8,521.9 570.6,526.2 571.9,532.5 573.8,537.5 576.2,542.5 578.8,547.5 580.0,552.5 580.6,572.5"/>
<polygon fill="#943d3d" points="543.1,572.5 543.1,566.2 544.4,557.5 545.6,550.0 548.1,545.0 551.2,541.2 555.0,538.8 558.8,538.1 561.9,539.4 564.4,538.1 566.2,535.0 568.1,532.5 568.8,533.8 571.2,538.8 573.8,545.0 576.2,551.2 577.5,557.5 577.5,572.5"/>
<polygon fill="#ad0554" points="552.5,572.5 552.5,567.5 553.8,553.8 555.0,543.8 557.5,541.2 560.0,543.1 561.2,545.0 563.8,543.1 565.6,540.0 567.5,538.1 568.8,541.2 571.9,546.2 573.8,552.5 575.0,560.0 574.4,572.5"/>
<polygon fill="#7a52c7" points="560.0,572.5 560.0,566.2 560.6,557.5 561.9,550.0 565.0,546.2 568.1,545.0 571.2,548.8 573.8,553.8 572.5,552.5 573.1,560.0 571.9,572.5"/>
<polygon fill="#5ce6ba" points="242.5,527.5 243.8,521.2 245.2,518.1 246.9,521.2 248.8,526.2 249.4,530.0 246.9,531.9 243.8,531.2"/>
<polygon fill="#a1ede3" points="244.4,527.5 245.6,523.8 246.9,523.8 247.8,527.5 246.2,529.4"/>
<g fill="none" stroke="#ff0000" stroke-opacity="0.58" stroke-width="0.7">
<polyline points="80.8,348.8 89.3,351.7 98.7,354.5 108.1,351.7 119.5,346.9"/>
<polyline points="80.8,358.2 89.3,360.7 98.7,363.3 108.1,361.1 119.5,355.4 128.9,350.7 136.4,348.8"/>
<polyline points="159.0,350.7 172.2,348.8 183.5,346.9"/>
<polyline points="80.8,408.2 89.3,405.4 100.6,400.6 111.9,395.9 123.2,391.2 134.5,387.5 145.8,384.6 157.1,382.7 168.4,382.7 179.8,381.8 191.1,382.7 202.4,386.5 213.7,389.3 228.0,393.1"/>
<polyline points="80.8,419.5 89.3,417.6 100.6,412.9 111.9,406.3 123.2,400.6 134.5,395.9 145.8,392.2 157.1,390.8 168.4,391.2 179.8,393.1 191.1,395.9 202.4,400.6 213.7,404.4 228.0,408.2"/>
<polyline points="224.0,400.6 239.1,402.5 254.1,404.4 269.2,406.3 284.3,407.2 299.4,406.3 314.4,405.4 329.5,407.2 344.6,408.2 350.2,408.6"/>
<polyline points="224.0,412.9 235.3,414.8 250.4,416.7 265.5,418.5 280.5,420.4 295.6,421.4 314.4,422.3"/>
<polyline points="257.9,443.0 271.1,447.8 284.3,453.4 293.7,458.7"/>
<polyline points="299.4,458.7 314.4,456.2 329.5,455.3 344.6,457.2 355.9,458.7"/>
<polyline points="224.0,346.9 235.3,347.9 248.5,349.8 261.7,348.8 269.2,348.3"/>
<polyline points="370.0,353.5 381.3,355.4 394.5,357.3 407.7,355.4 422.8,353.5 437.8,355.4 449.1,354.5 464.2,350.7 475.5,347.9 483.1,346.0"/>
<polyline points="370.0,451.5 381.3,445.9 392.6,442.1 407.7,444.0 422.8,448.7 437.8,454.3 449.1,458.7"/>
<polyline points="370.0,458.7 377.5,455.3 388.8,451.5 400.1,453.4 411.5,458.7"/>
<polyline points="388.8,346.0 407.7,347.9 426.5,346.9 441.6,348.8 452.9,347.9"/>
<polyline points="516.0,368.6 531.1,368.2 546.1,368.6 561.2,370.5 576.3,372.4 591.4,373.3 602.7,376.1 614.0,379.0 629.1,378.0 644.1,379.0 655.4,380.9"/>
<polyline points="529.2,408.2 542.4,409.1 557.5,408.2 572.5,407.2 587.6,408.2 602.7,411.0 617.8,413.8 632.8,412.9 655.4,413.8"/>
<polyline points="516.0,412.9 527.3,416.7 540.5,419.5 553.7,418.5 568.8,416.7 583.8,417.6 598.9,420.4 614.0,423.3 629.1,423.3 644.1,422.3 655.4,423.3"/>
<polyline points="516.0,440.2 527.3,444.9 540.5,448.7 553.7,449.3 568.8,446.8 580.1,442.1 587.6,439.3 598.9,444.0 614.0,448.7 629.1,450.6 644.1,449.6 655.4,448.7"/>
<polyline points="647.9,352.6 655.4,354.5"/>
<polyline points="516.0,351.7 531.1,350.7 546.1,351.7 561.2,353.5 576.3,355.4 591.4,357.3 606.4,360.1 621.5,363.0"/>
<polyline points="80.8,514.5 89.3,512.6 94.0,511.7"/>
<polyline points="115.7,508.9 127.0,505.1 140.2,504.2 151.5,507.0 160.9,512.6 170.3,520.2 177.9,527.7 181.6,533.4"/>
<polyline points="80.8,525.8 91.2,524.0 104.4,522.1 115.7,520.2 128.9,518.3 142.1,517.4 153.4,520.2 159.0,524.0"/>
<polyline points="80.8,539.0 91.2,539.0 104.4,537.1 125.1,536.2"/>
<polyline points="147.7,533.4 157.1,537.1 163.7,542.8 164.7,552.2 163.7,559.8"/>
<polyline points="80.8,548.4 91.2,548.4 104.4,546.6 115.7,545.6 128.9,546.6 142.1,546.6 153.4,548.4 159.0,552.2"/>
<polyline points="80.8,557.9 89.3,558.8 98.7,557.9"/>
<polyline points="119.5,558.8 134.5,559.8 145.8,560.7 157.1,560.7 158.1,564.5 163.7,560.7"/>
<polyline points="299.4,458.0 310.7,459.9 325.8,458.9 340.8,459.9 355.9,458.0"/>
<polyline points="305.0,556.0 306.9,548.4 314.4,543.7 322.0,540.9 329.5,537.1 333.3,535.3"/>
<polyline points="322.0,556.0 333.3,552.2 344.6,548.4 355.9,544.7 367.2,540.9 374.0,539.0"/>
<polyline points="329.5,563.5 340.8,557.9 352.1,554.1 363.4,550.3 374.0,548.4"/>
<polyline points="337.1,566.3 341.8,564.5"/>
<polyline points="361.6,563.5 374.0,560.7"/>
<polyline points="261.7,458.0 269.2,461.8 276.8,467.4 284.3,474.0 291.8,478.7"/>
<polyline points="370.0,500.4 383.2,502.3 396.4,504.2 409.6,507.9 423.7,509.8"/>
<polyline points="447.3,514.5 458.6,517.4 471.8,520.2 486.8,523.0 498.1,524.0 505.7,526.8"/>
<polyline points="370.0,509.8 383.2,511.7 396.4,514.5 409.6,518.3 422.8,521.1 436.0,525.8 449.1,529.6 460.4,532.4 473.6,533.4 486.8,532.4"/>
<polyline points="409.6,529.6 422.8,533.4 436.0,538.1 449.1,542.8 458.6,546.6"/>
<polyline points="370.0,530.5 379.4,528.7 387.9,530.5"/>
<polyline points="388.8,556.0 389.8,550.3 396.4,548.4 407.7,546.6 419.0,548.4 430.3,552.2 441.6,556.0 452.9,559.8 456.7,560.7"/>
<polyline points="479.3,557.9 483.1,554.1"/>
<polyline points="501.9,552.2 502.8,539.0 505.7,532.4 513.2,529.6 520.0,528.7"/>
<polyline points="514.1,552.2 514.7,533.4 517.0,528.7 520.0,528.1"/>
<polyline points="466.1,540.9 475.5,541.9 484.9,544.7 489.7,550.3"/>
<polyline points="392.6,567.3 393.6,560.7 400.1,559.8 411.5,560.7 422.8,563.5"/>
<polyline points="516.0,463.7 527.3,464.6 538.6,466.5 553.7,467.4 565.0,463.7 572.5,460.8 583.8,461.8 598.9,459.9 614.0,461.8 629.1,466.5 644.1,465.5 655.4,463.7"/>
<polyline points="516.0,520.2 523.5,524.0 531.1,529.6"/>
<polyline points="572.5,482.5 580.1,480.6 587.6,484.4 591.4,491.9 593.3,503.2 595.1,512.6 591.4,518.3 585.7,518.3"/>
<polyline points="595.1,491.9 598.9,488.1 606.4,486.3 614.0,480.6 621.5,475.0 632.8,473.1 644.1,475.0 655.4,476.8"/>
<polyline points="601.7,533.4 601.7,512.6 604.6,507.0 612.1,503.2 617.8,495.7 623.4,488.1 632.8,486.3 644.1,489.1 655.4,488.1"/>
<polyline points="640.4,546.6 641.3,514.5 645.1,509.8 655.4,508.9"/>
<polyline points="646.0,546.6 646.0,516.4 649.8,512.6 655.4,512.6"/>
<polyline points="566.9,514.5 572.5,518.3 580.1,520.2 585.7,516.4"/>
<polyline points="561.2,533.4 568.8,537.1 576.3,539.0 582.0,537.1"/>
<polyline points="80.0,461.0 86.0,458.5 92.0,456.5 98.0,454.5 107.5,448.5 115.0,441.0 122.5,432.0 130.0,424.8 137.5,421.6 145.0,420.4 152.5,421.6 162.5,424.0 172.5,426.6 180.0,429.8 192.5,433.0 205.0,435.0 217.5,436.0 232.5,439.0"/>
<polyline points="80.0,473.0 87.5,471.2 95.0,468.8 102.5,463.8 110.0,457.0 117.5,450.5 122.5,446.0 130.0,438.5 137.5,434.0 145.0,433.0 152.5,434.0 160.0,436.6 167.5,439.0 175.0,442.0 182.5,446.0 192.5,450.0 205.0,451.5 214.0,452.5"/>
<polyline points="80.0,484.4 87.5,482.5 95.0,480.0 102.5,476.9 110.0,471.2 117.5,465.0 125.0,459.4 132.5,455.0 140.0,451.9 147.5,450.6 155.0,451.2 165.0,453.8 175.0,457.5 180.0,459.5 187.5,463.5 195.0,467.0 200.0,469.0 206.0,474.0 212.0,481.0"/>
<polyline points="80.0,495.0 87.5,493.8 95.0,491.2 102.5,488.8 110.0,483.8 117.5,478.0 125.0,471.9 132.5,467.5 140.0,465.0 147.5,464.4 155.0,465.6 165.0,469.4 175.0,475.0 180.0,478.5 185.4,488.0 194.8,500.0 202.4,512.0 209.9,520.0"/>
<polyline points="80.0,505.0 87.5,503.8 95.0,501.9 105.0,498.0 112.5,493.8 120.0,487.5 127.5,482.5 135.0,480.0 142.5,479.4 150.0,480.6 160.0,484.4 170.0,490.0 180.0,497.0 187.3,506.0 191.0,513.0 198.6,522.0 208.0,529.6"/>
<polyline points="116.0,510.0 122.5,505.0 130.0,500.0 137.5,497.0 145.0,496.2 152.5,498.0 160.0,501.2 170.0,507.5 180.0,515.0 185.4,521.0 190.0,528.0"/>
<polyline points="282.4,563.5 295.6,533.4 303.1,528.7 310.7,524.9 318.2,520.2 329.5,514.5 340.8,510.8 355.9,507.0 367.2,505.1"/>
<polyline points="80.8,379.9 89.3,381.8 100.6,384.6 111.9,382.7 123.2,377.1 134.5,370.5 145.8,365.8 157.1,363.9 168.4,364.5 179.8,362.0 191.1,360.1 202.4,361.1 213.7,363.0 235.3,364.8 240.0,365.2"/>
<polyline points="198.6,458.0 200.5,469.3 203.3,478.7 208.0,486.3 215.6,486.3 233.4,486.3 242.8,490.0 252.3,492.9 261.7,495.7 269.2,500.4 274.9,505.1 282.4,504.2 290.0,500.4 299.4,495.7 308.8,491.9 322.0,488.1 337.1,486.3 352.1,483.4 379.4,479.7 387.0,480.2"/>
<polyline points="318.2,347.9 329.5,350.7 344.6,354.5 359.7,359.2 381.3,364.8 394.5,367.7 407.7,364.8 419.0,363.0 434.1,361.1 449.1,360.1 464.2,361.1 479.3,363.0 494.4,362.0 509.4,361.1 531.1,359.2 546.1,360.1 561.2,362.0 576.3,363.9 591.4,364.8 602.7,367.7 614.0,370.5 629.1,369.6 644.1,370.5 655.4,371.4"/>
<polyline points="483.1,507.9 498.1,508.9 509.4,507.0 525.4,512.6 534.8,518.3 544.3,522.1 553.7,520.2"/>
<polyline points="370.0,406.3 381.3,407.2 394.5,410.1 407.7,412.9 422.8,416.7 437.8,420.4 452.9,423.3 468.0,425.1 483.1,426.1 498.1,427.0 509.4,429.9 527.3,435.5 540.5,439.3 553.7,440.2 568.8,438.3 583.8,434.6 598.9,436.4 614.0,440.2 629.1,441.2 644.1,440.2 655.4,440.2"/>
<polyline points="348.4,525.8 359.7,522.1 383.2,522.1 396.4,524.0"/>
<polyline points="314.4,565.4 325.8,548.4 337.1,543.7 348.4,539.0"/>
<polyline points="80.8,390.3 91.2,393.1 100.6,395.4 111.9,392.2 123.2,386.5 134.5,381.8 145.8,377.1 157.1,373.3 168.4,372.4 179.8,372.0 191.1,370.5 202.4,371.4 213.7,374.3 239.1,376.1 254.1,378.0 269.2,380.9 277.7,380.9"/>
<polyline points="409.6,486.3 422.8,489.1 437.8,491.9 452.9,493.8 468.0,495.7 483.1,495.7 498.1,493.8 527.3,498.5 540.5,502.3 553.7,505.1 561.2,503.2"/>
<polyline points="303.1,380.9 318.2,382.7 333.3,385.6 348.4,388.4 363.4,391.2 381.3,392.2 394.5,395.4 407.7,398.8 422.8,401.6 437.8,404.4 452.9,407.2 464.2,409.1 479.3,408.2 494.4,406.3 505.7,405.4"/>
<polyline points="224.0,386.5 239.1,388.4 254.1,391.2 269.2,394.0 284.3,393.1 299.4,390.3 314.4,391.2 329.5,394.0 344.6,395.9 359.7,397.8 381.3,398.8 394.5,401.6 407.7,405.4 422.8,409.1 437.8,412.0 452.9,414.8 464.2,416.7"/>
<polyline points="80.0,444.0 86.0,440.0 91.0,438.0 95.0,439.0 100.0,439.8 107.5,433.5 115.0,427.0 122.5,419.8 130.0,412.0 137.5,408.5 147.5,406.6 157.5,406.0 167.5,407.0 177.5,409.0 187.5,413.0 195.0,416.0 205.0,418.8 217.5,421.9 235.3,425.1 246.6,428.9 261.7,429.9 273.0,428.9"/>
<polyline points="490.6,417.6 501.9,416.7 527.3,425.1 540.5,428.9 553.7,429.9 568.8,427.0 583.8,426.1 598.9,428.9 614.0,431.7 629.1,432.7 644.1,431.7 655.4,431.7"/>
<polyline points="299.4,434.6 310.7,438.3 325.8,442.1 340.8,444.0 355.9,442.1 381.3,432.7 394.5,431.7 407.7,433.6 422.8,438.3 437.8,443.0 452.9,447.8 468.0,450.6 483.1,452.5 498.1,455.3 509.4,458.7"/>
<polyline points="417.1,458.0 430.3,460.8 445.4,464.6 460.4,467.4 475.5,469.3 490.6,471.2 505.7,475.0 527.3,475.9 540.5,478.7 553.7,478.7 565.0,476.8 572.5,471.2 580.1,465.5 591.4,463.7 602.7,462.7"/>
<polyline points="280.5,463.7 290.0,469.3 299.4,475.0 306.9,480.6 318.2,479.7 333.3,475.9 348.4,474.0 363.4,473.1 383.2,467.4 396.4,468.4 407.7,472.1 419.0,475.0 425.6,475.9"/>
<polyline points="449.1,478.7 464.2,481.6 479.3,483.4 494.4,484.4 509.4,486.3 527.3,486.3 540.5,490.0 553.7,491.9 563.1,489.1 570.6,482.5"/>
<polyline points="208.0,540.9 231.5,522.1 239.1,525.8 246.6,529.6 256.0,532.4 265.5,533.4 273.0,530.5 280.5,524.9 288.1,520.2 295.6,516.4 303.1,511.7 312.6,507.0 323.9,503.2 337.1,498.5 352.1,494.7 383.2,491.9 396.4,493.8 409.6,496.6 422.8,500.4 437.8,504.2 451.0,506.0 458.6,506.6"/>
<polyline points="291.8,348.8 303.1,350.7 322.0,357.3 337.1,361.1 352.1,365.8 381.3,372.4 394.5,376.1 407.7,378.0 419.0,379.0 434.1,379.9 449.1,379.0 464.2,378.0 479.3,379.0 494.4,379.9 509.4,379.0 531.1,379.9 546.1,380.9 561.2,379.9 576.3,380.9 591.4,382.7 602.7,385.6 614.0,387.8 629.1,386.5 644.1,387.5 655.4,389.3"/>
<polyline points="261.7,369.6 276.8,372.4 291.8,374.3 306.9,374.3 322.0,376.1 337.1,379.0 352.1,382.7 381.3,384.6 394.5,388.4 407.7,391.2 422.8,394.0 437.8,395.0 452.9,395.9 464.2,397.8 475.5,398.8 490.6,397.8 505.7,396.9 520.0,395.9"/>
<polyline points="338.9,422.3 352.1,423.3 363.4,421.4 381.3,420.4 394.5,421.4 407.7,424.2 422.8,428.0 437.8,432.7 452.9,436.4 468.0,438.3 483.1,439.3 498.1,441.2 509.4,444.0 527.3,453.4 540.5,457.2 553.7,458.1 568.8,455.3 580.1,450.6"/>
<polyline points="80.8,368.6 91.2,371.4 100.6,374.3 110.0,372.4 121.3,365.8 132.6,360.1 144.0,357.3 157.1,356.9 168.4,355.4 179.8,353.5 191.1,353.2 206.1,354.5 217.4,353.5 239.1,355.0 254.1,359.2 269.2,362.0 284.3,363.9 299.4,364.8 314.4,365.8 329.5,367.7 344.6,370.5 359.7,374.3 381.3,379.0 394.5,382.7 407.7,385.6 422.8,386.5 437.8,386.5 452.9,385.6 464.2,388.4 475.5,390.3 486.8,389.7 501.9,388.4 527.3,393.1 540.5,395.9 553.7,395.0 568.8,393.1 583.8,394.0 598.9,396.9 610.2,399.7 621.5,400.6 636.6,399.7 655.4,402.5"/>
</g>
<g stroke="#000" stroke-width="0.85" stroke-dasharray="1.39,4.17" fill="none">
<line x1="152.4" y1="348" x2="152.4" y2="569.2"/>
<line x1="224.6" y1="348" x2="224.6" y2="569.2"/>
<line x1="296.8" y1="348" x2="296.8" y2="569.2"/>
<line x1="369" y1="348" x2="369" y2="569.2"/>
<line x1="441.2" y1="348" x2="441.2" y2="569.2"/>
<line x1="513.4" y1="348" x2="513.4" y2="569.2"/>
<line x1="585.6" y1="348" x2="585.6" y2="569.2"/>
<line x1="80" y1="532.5" x2="655.6" y2="532.5"/>
<line x1="80" y1="495.5" x2="655.6" y2="495.5"/>
<line x1="80" y1="458.5" x2="655.6" y2="458.5"/>
<line x1="80" y1="421.5" x2="655.6" y2="421.5"/>
<line x1="80" y1="384.5" x2="655.6" y2="384.5"/>
</g>
<g stroke="#000" stroke-width="0.6">
<line x1="152.4" y1="569.2" x2="152.4" y2="563.7"/>
<line x1="152.4" y1="348" x2="152.4" y2="353.5"/>
<line x1="224.6" y1="569.2" x2="224.6" y2="563.7"/>
<line x1="224.6" y1="348" x2="224.6" y2="353.5"/>
<line x1="296.8" y1="569.2" x2="296.8" y2="563.7"/>
<line x1="296.8" y1="348" x2="296.8" y2="353.5"/>
<line x1="369" y1="569.2" x2="369" y2="563.7"/>
<line x1="369" y1="348" x2="369" y2="353.5"/>
<line x1="441.2" y1="569.2" x2="441.2" y2="563.7"/>
<line x1="441.2" y1="348" x2="441.2" y2="353.5"/>
<line x1="513.4" y1="569.2" x2="513.4" y2="563.7"/>
<line x1="513.4" y1="348" x2="513.4" y2="353.5"/>
<line x1="585.6" y1="569.2" x2="585.6" y2="563.7"/>
<line x1="585.6" y1="348" x2="585.6" y2="353.5"/>
<line x1="80" y1="532.5" x2="85.5" y2="532.5"/>
<line x1="655.6" y1="532.5" x2="650.1" y2="532.5"/>
<line x1="80" y1="495.5" x2="85.5" y2="495.5"/>
<line x1="655.6" y1="495.5" x2="650.1" y2="495.5"/>
<line x1="80" y1="458.5" x2="85.5" y2="458.5"/>
<line x1="655.6" y1="458.5" x2="650.1" y2="458.5"/>
<line x1="80" y1="421.5" x2="85.5" y2="421.5"/>
<line x1="655.6" y1="421.5" x2="650.1" y2="421.5"/>
<line x1="80" y1="384.5" x2="85.5" y2="384.5"/>
<line x1="655.6" y1="384.5" x2="650.1" y2="384.5"/>
</g>
<g stroke="#000" stroke-width="0.9" fill="none" stroke-linejoin="miter">
<polyline points="104.0,370.1 87.7,352.0"/>
<polyline points="93.8,358.8 99.1,349.9"/>
<polyline points="95.9,361.0 101.2,352.2"/>
<polyline points="127.9,371.4 107.0,358.9"/>
<polyline points="114.9,363.6 117.3,353.5"/>
<polyline points="117.5,365.2 120.0,355.1"/>
<polyline points="120.1,366.7 122.6,356.7"/>
<polyline points="122.7,368.3 125.2,358.2"/>
<polyline points="151.5,373.3 128.0,379.8"/>
<polyline points="136.8,377.4 131.2,368.6"/>
<polyline points="139.7,376.5 134.2,367.8"/>
<polyline points="142.7,375.7 137.1,367.0"/>
<polyline points="200.5,370.1 180.4,383.9"/>
<polyline points="194.2,374.4 186.1,368.0"/>
<polyline points="104.0,430.8 86.8,413.4"/>
<polyline points="93.3,420.0 98.2,410.8"/>
<polyline points="95.4,422.1 100.3,413.0"/>
<polyline points="127.9,432.7 106.3,421.4"/>
<polyline points="114.4,425.6 116.3,415.4"/>
<polyline points="117.1,427.0 118.1,421.9"/>
<polyline points="151.5,433.1 127.8,439.1"/>
<polyline points="136.7,436.8 131.3,428.0"/>
<polyline points="139.7,436.1 134.3,427.2"/>
<polyline points="142.6,435.3 137.2,426.5"/>
<polyline points="200.5,430.8 181.0,445.4"/>
<polyline points="188.3,439.9 179.9,433.9"/>
<polyline points="190.7,438.1 182.3,432.0"/>
<polyline points="193.2,436.3 184.8,430.2"/>
<polyline points="272.6,367.7 248.2,368.3"/>
<polyline points="257.4,368.1 254.1,358.2"/>
<polyline points="296.5,366.4 273.8,357.5"/>
<polyline points="282.3,360.8 282.7,355.6"/>
<polyline points="320.5,366.4 302.8,349.5"/>
<polyline points="309.4,355.8 314.1,346.6"/>
<polyline points="369.1,368.6 351.8,351.4"/>
<polyline points="272.6,428.5 249.5,436.4"/>
<polyline points="249.5,436.4 243.4,428.0"/>
<polyline points="252.4,435.4 246.3,427.0"/>
<polyline points="255.3,434.4 249.2,426.1"/>
<polyline points="258.2,433.5 252.1,425.1"/>
<polyline points="296.5,428.5 272.2,426.6"/>
<polyline points="272.2,426.6 270.0,416.5"/>
<polyline points="275.3,426.8 273.0,416.7"/>
<polyline points="278.3,427.1 276.1,417.0"/>
<polyline points="320.5,428.5 300.6,414.3"/>
<polyline points="300.6,414.3 303.9,404.5"/>
<polyline points="303.1,416.1 306.4,406.3"/>
<polyline points="305.6,417.9 308.9,408.1"/>
<polyline points="308.1,419.7 311.4,409.8"/>
<polyline points="369.1,428.9 357.8,407.3"/>
<polyline points="357.8,407.3 365.1,400.0"/>
<polyline points="359.2,410.0 366.5,402.7"/>
<polyline points="360.6,412.7 368.0,405.4"/>
<polyline points="393.2,368.2 369.2,363.7"/>
<polyline points="369.2,363.7 368.0,353.4"/>
<polyline points="372.2,364.3 371.0,354.0"/>
<polyline points="375.2,364.9 374.0,354.6"/>
<polyline points="417.3,368.6 394.2,376.6"/>
<polyline points="402.9,373.6 396.8,365.3"/>
<polyline points="441.4,368.2 419.0,377.8"/>
<polyline points="427.4,374.2 420.7,366.3"/>
<polyline points="465.5,367.7 443.0,376.9"/>
<polyline points="451.4,373.5 444.8,365.4"/>
<polyline points="454.2,372.3 447.7,364.3"/>
<polyline points="457.1,371.1 450.5,363.1"/>
<polyline points="489.7,367.1 467.3,377.0"/>
<polyline points="475.7,373.3 468.9,365.4"/>
<polyline points="478.5,372.0 471.7,364.2"/>
<polyline points="513.8,367.1 491.4,376.8"/>
<polyline points="499.8,373.1 493.0,365.3"/>
<polyline points="537.9,366.4 514.9,374.4"/>
<polyline points="514.9,374.4 508.7,366.1"/>
<polyline points="517.7,373.4 511.6,365.0"/>
<polyline points="520.6,372.4 514.5,364.0"/>
<polyline points="393.2,428.9 371.1,418.6"/>
<polyline points="371.1,418.6 372.5,408.3"/>
<polyline points="373.8,419.9 375.2,409.6"/>
<polyline points="417.3,428.9 392.9,428.0"/>
<polyline points="392.9,428.0 390.2,418.0"/>
<polyline points="396.0,428.1 393.3,418.1"/>
<polyline points="399.0,428.2 397.7,423.2"/>
<polyline points="441.4,429.9 417.2,432.6"/>
<polyline points="417.2,432.6 413.0,423.1"/>
<polyline points="420.2,432.2 416.1,422.7"/>
<polyline points="423.2,431.9 419.1,422.4"/>
<polyline points="465.5,431.2 441.9,437.3"/>
<polyline points="441.9,437.3 436.5,428.5"/>
<polyline points="444.9,436.5 439.4,427.7"/>
<polyline points="447.8,435.8 442.4,427.0"/>
<polyline points="450.8,435.0 445.3,426.2"/>
<polyline points="489.7,430.4 465.8,435.6"/>
<polyline points="465.8,435.6 460.7,426.5"/>
<polyline points="468.8,434.9 463.7,425.9"/>
<polyline points="471.8,434.3 466.7,425.2"/>
<polyline points="474.7,433.6 469.7,424.6"/>
<polyline points="513.8,429.9 490.9,438.2"/>
<polyline points="490.9,438.2 484.6,430.0"/>
<polyline points="493.7,437.2 487.5,428.9"/>
<polyline points="496.6,436.1 490.3,427.9"/>
<polyline points="499.5,435.1 493.2,426.8"/>
<polyline points="537.9,428.9 514.6,436.3"/>
<polyline points="514.6,436.3 508.7,427.8"/>
<polyline points="517.5,435.4 511.6,426.9"/>
<polyline points="520.4,434.4 514.5,425.9"/>
<polyline points="562.0,365.2 537.6,364.8"/>
<polyline points="537.6,364.8 534.7,354.9"/>
<polyline points="540.6,364.9 537.7,354.9"/>
<polyline points="585.9,364.8 569.1,347.2"/>
<polyline points="610.0,365.2 585.8,362.0"/>
<polyline points="585.8,362.0 584.1,351.8"/>
<polyline points="634.1,365.2 619.1,346.0"/>
<polyline points="537.9,428.9 515.1,437.7"/>
<polyline points="515.1,437.7 508.7,429.6"/>
<polyline points="518.0,436.6 511.5,428.5"/>
<polyline points="520.8,435.5 514.4,427.4"/>
<polyline points="562.0,428.9 538.5,435.5"/>
<polyline points="538.5,435.5 532.9,426.8"/>
<polyline points="541.4,434.7 535.8,426.0"/>
<polyline points="585.9,428.9 562.2,423.0"/>
<polyline points="562.2,423.0 561.6,412.7"/>
<polyline points="610.0,428.9 601.6,406.0"/>
<polyline points="601.6,406.0 609.9,399.7"/>
<polyline points="634.1,428.9 629.2,405.0"/>
<polyline points="629.2,405.0 638.2,400.0"/>
<polyline points="629.8,408.0 634.3,405.5"/>
<polyline points="104.0,488.1 90.0,468.2"/>
<polyline points="90.0,468.2 96.4,460.0"/>
<polyline points="91.8,470.7 98.1,462.5"/>
<polyline points="93.5,473.2 99.9,465.0"/>
<polyline points="95.3,475.7 101.6,467.5"/>
<polyline points="127.9,489.1 105.8,478.9"/>
<polyline points="105.8,478.9 107.1,468.6"/>
<polyline points="108.5,480.2 109.9,469.9"/>
<polyline points="111.3,481.4 112.7,471.2"/>
<polyline points="151.5,490.0 128.3,497.7"/>
<polyline points="128.3,497.7 122.3,489.3"/>
<polyline points="131.2,496.8 125.2,488.4"/>
<polyline points="134.1,495.8 128.1,487.4"/>
<polyline points="200.5,488.1 181.0,502.8"/>
<polyline points="188.3,497.3 179.9,491.2"/>
<polyline points="104.0,533.4 91.9,512.2"/>
<polyline points="91.9,512.2 98.9,504.6"/>
<polyline points="93.4,514.9 100.4,507.3"/>
<polyline points="127.9,533.4 106.3,522.1"/>
<polyline points="106.3,522.1 108.2,511.9"/>
<polyline points="109.0,523.5 110.9,513.3"/>
<polyline points="151.5,532.4 128.6,541.0"/>
<polyline points="128.6,541.0 122.3,532.8"/>
<polyline points="104.0,550.3 91.0,529.7"/>
<polyline points="91.0,529.7 97.7,521.8"/>
<polyline points="92.6,532.3 99.4,524.4"/>
<polyline points="127.9,550.3 105.7,540.2"/>
<polyline points="105.7,540.2 107.0,530.0"/>
<polyline points="108.5,541.5 109.8,531.2"/>
<polyline points="151.5,550.3 128.8,559.2"/>
<polyline points="128.8,559.2 122.3,551.1"/>
<polyline points="104.0,566.3 87.9,548.0"/>
<polyline points="87.9,548.0 93.3,539.2"/>
<polyline points="127.9,566.9 110.9,549.4"/>
<polyline points="110.9,549.4 115.9,540.3"/>
<polyline points="151.5,560.7 128.1,567.8"/>
<polyline points="128.1,567.8 122.3,559.2"/>
<polyline points="200.5,531.9 195.2,540.9"/>
<polyline points="272.6,486.3 249.1,479.8"/>
<polyline points="249.1,479.8 248.7,469.5"/>
<polyline points="252.0,480.6 251.7,470.3"/>
<polyline points="255.0,481.4 254.6,471.1"/>
<polyline points="257.9,482.2 257.6,471.9"/>
<polyline points="296.5,485.9 278.6,469.3"/>
<polyline points="278.6,469.3 283.1,460.0"/>
<polyline points="280.9,471.4 285.4,462.0"/>
<polyline points="283.1,473.5 287.6,464.1"/>
<polyline points="320.5,486.3 307.8,465.4"/>
<polyline points="307.8,465.4 314.7,457.7"/>
<polyline points="369.1,486.3 359.9,463.7"/>
<polyline points="359.9,463.7 367.9,457.1"/>
<polyline points="361.0,466.5 365.0,463.2"/>
<polyline points="273.4,530.5 258.4,549.8"/>
<polyline points="258.4,549.8 248.7,546.1"/>
<polyline points="296.5,530.5 298.0,554.9"/>
<polyline points="297.8,550.3 292.9,552.2"/>
<polyline points="296.5,551.3 314.3,568.0"/>
<polyline points="369.1,530.5 368.1,506.2"/>
<polyline points="368.1,506.2 377.9,502.7"/>
<polyline points="272.6,550.3 273.4,563.5"/>
<polyline points="320.5,550.3 337.1,568.2"/>
<polyline points="322.0,558.8 329.5,566.3"/>
<polyline points="369.1,557.9 372.9,567.3"/>
<polyline points="393.2,487.2 382.2,465.4"/>
<polyline points="382.2,465.4 389.7,458.2"/>
<polyline points="417.3,487.8 406.5,465.9"/>
<polyline points="406.5,465.9 414.0,458.8"/>
<polyline points="441.4,487.8 417.8,481.7"/>
<polyline points="417.8,481.7 417.3,471.4"/>
<polyline points="465.5,488.1 441.1,487.8"/>
<polyline points="441.1,487.8 438.2,477.8"/>
<polyline points="489.7,488.1 466.9,497.0"/>
<polyline points="466.9,497.0 460.5,488.9"/>
<polyline points="513.8,487.2 489.5,489.2"/>
<polyline points="489.5,489.2 485.6,479.6"/>
<polyline points="492.5,488.9 488.7,479.3"/>
<polyline points="393.2,532.4 390.1,508.2"/>
<polyline points="390.1,508.2 399.5,503.9"/>
<polyline points="417.3,531.5 406.6,509.6"/>
<polyline points="406.6,509.6 414.2,502.5"/>
<polyline points="441.4,531.5 426.3,512.3"/>
<polyline points="426.3,512.3 432.2,503.8"/>
<polyline points="465.5,532.4 459.6,508.8"/>
<polyline points="459.6,508.8 468.4,503.4"/>
<polyline points="489.7,532.4 465.3,533.4"/>
<polyline points="465.3,533.4 461.8,523.6"/>
<polyline points="513.8,532.4 489.8,527.9"/>
<polyline points="489.8,527.9 488.6,517.6"/>
<polyline points="465.5,550.3 461.6,526.2"/>
<polyline points="461.6,526.2 470.9,521.6"/>
<polyline points="489.7,550.3 466.2,543.8"/>
<polyline points="470.6,545.0 470.4,539.8"/>
<polyline points="513.8,550.3 489.9,545.5"/>
<polyline points="489.9,545.5 488.8,535.2"/>
<polyline points="369.1,514.5 383.4,494.8"/>
<polyline points="369.1,541.9 386.9,525.2"/>
<polyline points="386.9,525.2 395.9,530.4"/>
<polyline points="369.1,553.2 385.7,535.4"/>
<polyline points="385.7,535.4 395.1,539.9"/>
<polyline points="369.1,561.6 380.9,540.3"/>
<polyline points="380.9,540.3 391.0,542.4"/>
<polyline points="393.2,550.3 408.7,531.5"/>
<polyline points="408.7,531.5 418.3,535.5"/>
<polyline points="393.2,561.6 402.6,539.1"/>
<polyline points="402.6,539.1 412.9,540.2"/>
<polyline points="417.3,550.3 413.0,526.3"/>
<polyline points="413.0,526.3 422.2,521.6"/>
<polyline points="417.3,560.7 411.4,537.0"/>
<polyline points="411.4,537.0 420.3,531.7"/>
<polyline points="412.2,540.0 421.0,534.6"/>
<polyline points="417.3,568.2 412.5,544.3"/>
<polyline points="412.5,544.3 421.6,539.4"/>
<polyline points="413.1,547.3 422.2,542.4"/>
<polyline points="441.4,550.3 425.8,531.6"/>
<polyline points="425.8,531.6 431.5,522.9"/>
<polyline points="441.4,557.9 421.6,543.7"/>
<polyline points="421.6,543.7 424.8,533.9"/>
<polyline points="441.4,567.3 425.3,549.0"/>
<polyline points="425.3,549.0 430.7,540.1"/>
<polyline points="537.9,488.1 516.2,476.9"/>
<polyline points="516.2,476.9 518.1,466.7"/>
<polyline points="562.0,488.1 549.4,509.1"/>
<polyline points="549.4,509.1 539.4,506.6"/>
<polyline points="585.9,489.1 592.9,512.5"/>
<polyline points="591.6,508.1 587.3,511.0"/>
<polyline points="610.0,488.1 629.5,473.5"/>
<polyline points="629.5,473.5 637.9,479.5"/>
<polyline points="634.1,489.1 645.9,467.7"/>
<polyline points="645.9,467.7 656.0,469.8"/>
<polyline points="562.0,532.4 545.8,514.2"/>
<polyline points="610.0,533.4 634.2,529.9"/>
<polyline points="634.1,532.4 646.7,511.5"/>
<polyline points="646.7,511.5 656.8,514.0"/>
<polyline points="634.1,532.4 640.4,537.1"/>
<polyline points="537.9,532.4 521.4,514.4"/>
<polyline points="521.4,514.4 526.6,505.5"/>
<polyline points="523.5,516.7 528.7,507.7"/>
<polyline points="525.5,518.9 530.8,510.0"/>
<polyline points="537.9,551.3 521.0,533.7"/>
<polyline points="521.0,533.7 526.0,524.6"/>
<polyline points="523.1,535.9 528.1,526.8"/>
<polyline points="537.9,560.7 521.9,542.3"/>
<polyline points="521.9,542.3 527.4,533.5"/>
<polyline points="523.9,544.6 529.4,535.8"/>
<polyline points="562.0,552.2 540.6,540.4"/>
<polyline points="540.6,540.4 542.7,530.3"/>
<polyline points="543.3,541.9 545.4,531.8"/>
<polyline points="545.9,543.4 548.0,533.2"/>
<polyline points="562.0,560.7 541.0,548.2"/>
<polyline points="541.0,548.2 543.5,538.1"/>
<polyline points="543.6,549.8 546.1,539.7"/>
<polyline points="546.3,551.3 548.7,541.3"/>
</g>
<g stroke="#000" stroke-width="0.6" fill="#000">
<polygon points="87.7,352.0 97.1,347.6 91.8,356.5"/>
<polygon points="107.0,358.9 114.7,352.0 112.2,362.0"/>
<polygon points="128.0,379.8 128.3,369.4 133.8,378.2"/>
<polygon points="180.4,383.9 177.3,374.0 185.4,380.5"/>
<polygon points="186.6,379.6 183.6,369.7 191.7,376.2"/>
<polygon points="86.8,413.4 96.0,408.7 91.1,417.8"/>
<polygon points="106.3,421.4 113.6,414.0 111.7,424.2"/>
<polygon points="127.8,439.1 128.4,428.7 133.8,437.6"/>
<polygon points="181.0,445.4 177.5,435.7 185.8,441.8"/>
<polygon points="248.2,368.3 251.0,358.3 254.3,368.1"/>
<polygon points="273.8,357.5 280.3,349.4 279.5,359.7"/>
<polygon points="302.8,349.5 311.9,344.4 307.2,353.7"/>
<polygon points="351.8,351.4 361.0,346.5 356.2,355.7"/>
<polygon points="394.2,376.6 393.9,366.3 400.0,374.6"/>
<polygon points="419.0,377.8 417.9,367.5 424.6,375.4"/>
<polygon points="443.0,376.9 442.0,366.6 448.6,374.6"/>
<polygon points="467.3,377.0 466.1,366.7 472.9,374.5"/>
<polygon points="491.4,376.8 490.2,366.5 497.0,374.3"/>
<polygon points="181.0,502.8 177.5,493.0 185.8,499.1"/>
</g>
<polygon fill="#ffffff" points="70.0,572.0 150.0,571.0 156.2,568.8 163.0,563.5 172.0,560.5 176.5,556.0 179.5,547.0 182.5,536.5 185.6,531.2 188.8,535.0 192.5,541.2 197.5,543.8 201.2,547.5 205.0,549.4 208.8,547.5 212.5,546.9 216.2,549.4 221.2,553.1 227.5,555.6 235.0,557.5 242.5,558.1 248.8,558.8 253.8,562.5 260.0,565.6 267.5,567.5 270.0,565.6 282.5,565.6 292.5,564.4 297.5,563.1 302.5,565.6 311.2,566.9 316.2,565.0 321.2,563.5 325.0,564.4 331.2,567.5 337.5,569.8 345.0,571.0 364.0,570.0 368.8,567.5 373.8,563.8 380.0,562.0 386.2,563.8 391.2,567.5 396.0,570.5 420.0,571.0 470.0,571.0 480.0,565.0 483.8,560.0 487.5,555.0 491.2,553.1 496.2,554.4 501.2,555.0 505.0,553.8 510.0,554.4 516.2,556.2 522.5,559.4 530.0,563.1 537.5,565.6 545.0,567.5 555.0,568.1 565.0,567.5 570.0,566.2 573.8,565.6 577.5,561.2 580.0,555.0 582.5,545.0 585.0,532.5 586.9,526.9 589.4,525.6 591.9,528.8 595.0,533.8 600.0,538.8 603.8,540.6 608.8,540.0 611.2,542.5 615.0,545.6 618.8,543.1 622.5,545.0 627.5,546.2 632.5,549.4 637.5,550.6 641.2,553.1 644.4,554.4 647.5,551.2 651.2,545.0 655.0,538.1 660.0,531.2 660,574.2 70,574.2"/>
<g font-size="10.6" fill="#ff0000" text-anchor="middle">
<text x="280.5" y="352.9">348</text>
<text x="250.8" y="371.6" transform="rotate(5 250.8 367.7)">342</text>
<text x="289" y="383.9" transform="rotate(3 289 380)">339</text>
<text x="286.7" y="438.5" transform="rotate(10 286.7 434.6)">327</text>
<text x="245.1" y="445.6" transform="rotate(12 245.1 441.7)">324</text>
<text x="325.4" y="426.8" transform="rotate(5 325.4 422.9)">330</text>
<text x="361.2" y="411.7" transform="rotate(8 361.2 407.8)">333</text>
<text x="347.4" y="351.9" transform="rotate(8 347.4 348)">354</text>
<text x="423.7" y="376.3" transform="rotate(8 423.7 372.4)">351</text>
<text x="477.4" y="423" transform="rotate(8 477.4 419.1)">336</text>
<text x="517.5" y="407.4" transform="rotate(8 517.5 403.5)">345</text>
<text x="636.6" y="353.9" transform="rotate(10 636.6 350)">357</text>
<text x="104.4" y="518.1" transform="rotate(10 104.4 514.2)">306</text>
<text x="137.9" y="539.5" transform="rotate(10 137.9 535.6)">297</text>
<text x="168" y="535.8" transform="rotate(25 168 531.9)">300</text>
<text x="109.1" y="562.7" transform="rotate(5 109.1 558.8)">291</text>
<text x="217" y="536.3" transform="rotate(72 217 532.4)">312</text>
<text x="338" y="536.9" transform="rotate(-20 338 533)">309</text>
<text x="360" y="538.2" transform="rotate(-15 360 534.3)">306</text>
<text x="350.2" y="567.4">297</text>
<text x="397.3" y="486.4" transform="rotate(10 397.3 482.5)">318</text>
<text x="436.3" y="480.4" transform="rotate(10 436.3 476.5)">321</text>
<text x="435" y="514.7" transform="rotate(10 435 510.8)">312</text>
<text x="469.9" y="509.9" transform="rotate(5 469.9 506)">315</text>
<text x="398.3" y="536.3" transform="rotate(-5 398.3 532.4)">303</text>
<text x="467" y="560.9" transform="rotate(-5 467 557)">300</text>
<text x="434" y="567.9">297</text>
<text x="147.7" y="356.1">348</text>
</g>
<polyline fill="none" stroke="#000" stroke-width="3.6" stroke-linejoin="round" points="70.0,572.0 150.0,571.0 156.2,568.8 163.0,563.5 172.0,560.5 176.5,556.0 179.5,547.0 182.5,536.5 185.6,531.2 188.8,535.0 192.5,541.2 197.5,543.8 201.2,547.5 205.0,549.4 208.8,547.5 212.5,546.9 216.2,549.4 221.2,553.1 227.5,555.6 235.0,557.5 242.5,558.1 248.8,558.8 253.8,562.5 260.0,565.6 267.5,567.5 270.0,565.6 282.5,565.6 292.5,564.4 297.5,563.1 302.5,565.6 311.2,566.9 316.2,565.0 321.2,563.5 325.0,564.4 331.2,567.5 337.5,569.8 345.0,571.0 364.0,570.0 368.8,567.5 373.8,563.8 380.0,562.0 386.2,563.8 391.2,567.5 396.0,570.5 420.0,571.0 470.0,571.0 480.0,565.0 483.8,560.0 487.5,555.0 491.2,553.1 496.2,554.4 501.2,555.0 505.0,553.8 510.0,554.4 516.2,556.2 522.5,559.4 530.0,563.1 537.5,565.6 545.0,567.5 555.0,568.1 565.0,567.5 570.0,566.2 573.8,565.6 577.5,561.2 580.0,555.0 582.5,545.0 585.0,532.5 586.9,526.9 589.4,525.6 591.9,528.8 595.0,533.8 600.0,538.8 603.8,540.6 608.8,540.0 611.2,542.5 615.0,545.6 618.8,543.1 622.5,545.0 627.5,546.2 632.5,549.4 637.5,550.6 641.2,553.1 644.4,554.4 647.5,551.2 651.2,545.0 655.0,538.1 660.0,531.2"/>
<line x1="410" y1="348" x2="410" y2="569.2" stroke="#000" stroke-width="2" stroke-dasharray="16.6,4.6" stroke-dashoffset="15.5"/>
</g>
<rect x="79.5" y="347.5" width="576" height="222" fill="none" stroke="#000" stroke-width="1.35"/>
<g font-size="13.95" fill="#000">
<text x="80" y="584.5" text-anchor="middle">20°W</text>
<text x="152.4" y="584.5" text-anchor="middle">10°W</text>
<text x="224.6" y="584.5" text-anchor="middle">0°</text>
<text x="296.8" y="584.5" text-anchor="middle">10°E</text>
<text x="369" y="584.5" text-anchor="middle">20°E</text>
<text x="441.2" y="584.5" text-anchor="middle">30°E</text>
<text x="513.4" y="584.5" text-anchor="middle">40°E</text>
<text x="585.6" y="584.5" text-anchor="middle">50°E</text>
<text x="74.5" y="574.1" text-anchor="end">0</text>
<text x="74.5" y="537.4" text-anchor="end">2</text>
<text x="74.5" y="500.4" text-anchor="end">4</text>
<text x="74.5" y="463.4" text-anchor="end">6</text>
<text x="74.5" y="426.4" text-anchor="end">8</text>
<text x="74.5" y="389.4" text-anchor="end">10</text>
<text x="74.5" y="352.9" text-anchor="end">12</text>
<text transform="translate(49.2 459.1) rotate(-90)" text-anchor="middle">altitude (km)</text>
<text x="367.8" y="324.2" text-anchor="middle">NMMB/BSC-Dust Dust Concentration (µg/m³), Wind, Pot.Temp. LAT = 35.34°N</text>
<text x="367.8" y="340.6" text-anchor="middle">24h forecast for 20UTC 22 JUN 2014</text>
</g>
<rect x="692.1" y="534.31" width="10" height="25.49" fill="#a1ede3"/>
<rect x="692.1" y="509.12" width="10" height="25.49" fill="#5ce6ba"/>
<rect x="692.1" y="483.94" width="10" height="25.49" fill="#52b897"/>
<rect x="692.1" y="458.75" width="10" height="25.49" fill="#fcc629"/>
<rect x="692.1" y="433.56" width="10" height="25.49" fill="#e6754c"/>
<rect x="692.1" y="408.38" width="10" height="25.49" fill="#943d3d"/>
<rect x="692.1" y="383.19" width="10" height="25.49" fill="#ad0554"/>
<rect x="692.1" y="358.00" width="10" height="25.49" fill="#7a52c7"/>
<polygon points="692.1,358 697.1,348 702.1,358" fill="#a1a1a1"/>
<polygon points="692.1,559.5 697.1,569.5 702.1,559.5" fill="#fff"/>
<polygon points="692.1,358 697.1,348 702.1,358 702.1,559.5 697.1,569.5 692.1,559.5" fill="none" stroke="#000" stroke-width="1.35"/>
<g font-size="13.95" fill="#000">
<line x1="696.6" y1="559.00" x2="702.1" y2="559.00" stroke="#000" stroke-width="0.8"/>
<text x="706.6" y="564.30">10</text>
<line x1="696.6" y1="533.81" x2="702.1" y2="533.81" stroke="#000" stroke-width="0.8"/>
<text x="706.6" y="539.11">20</text>
<line x1="696.6" y1="508.62" x2="702.1" y2="508.62" stroke="#000" stroke-width="0.8"/>
<text x="706.6" y="513.92">40</text>
<line x1="696.6" y1="483.44" x2="702.1" y2="483.44" stroke="#000" stroke-width="0.8"/>
<text x="706.6" y="488.74">80</text>
<line x1="696.6" y1="458.25" x2="702.1" y2="458.25" stroke="#000" stroke-width="0.8"/>
<text x="706.6" y="463.55">160</text>
<line x1="696.6" y1="433.06" x2="702.1" y2="433.06" stroke="#000" stroke-width="0.8"/>
<text x="706.6" y="438.36">320</text>
<line x1="696.6" y1="407.88" x2="702.1" y2="407.88" stroke="#000" stroke-width="0.8"/>
<text x="706.6" y="413.18">640</text>
<line x1="696.6" y1="382.69" x2="702.1" y2="382.69" stroke="#000" stroke-width="0.8"/>
<text x="706.6" y="387.99">1280</text>
<line x1="696.6" y1="357.50" x2="702.1" y2="357.50" stroke="#000" stroke-width="0.8"/>
<text x="706.6" y="362.80">2650</text>
</g>
</svg></body></html>
